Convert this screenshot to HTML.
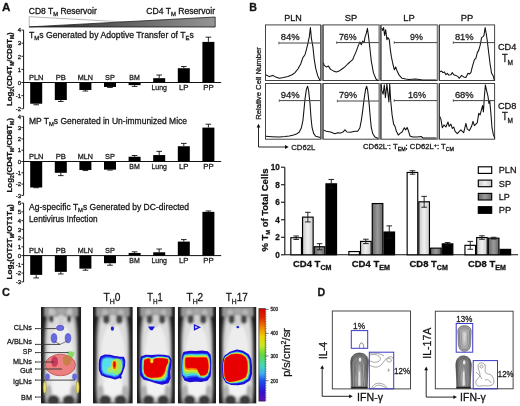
<!DOCTYPE html><html><head><meta charset="utf-8"><style>html,body{margin:0;padding:0;background:#fff;}svg{display:block;will-change:transform;filter:blur(0.25px);}text{font-family:"Liberation Sans",sans-serif;stroke:#1a1a1a;stroke-width:0.28px;}</style></head><body>
<svg width="520" height="406" viewBox="0 0 520 406">
<defs>
<linearGradient id="wedge" x1="0" x2="1" y1="0" y2="0"><stop offset="0" stop-color="#222"/><stop offset="0.45" stop-color="#5a5a5a"/><stop offset="1" stop-color="#959595"/></linearGradient>
<linearGradient id="gSP" x1="0" x2="1"><stop offset="0" stop-color="#c8c8c8"/><stop offset="0.5" stop-color="#f0f0f0"/><stop offset="1" stop-color="#c8c8c8"/></linearGradient>
<linearGradient id="gLP" x1="0" x2="1"><stop offset="0" stop-color="#666"/><stop offset="0.5" stop-color="#9a9a9a"/><stop offset="1" stop-color="#666"/></linearGradient>
<linearGradient id="cbar" x1="0" x2="0" y1="0" y2="1">
 <stop offset="0" stop-color="#d80000"/><stop offset="0.1" stop-color="#e02800"/><stop offset="0.18" stop-color="#f07000"/>
 <stop offset="0.3" stop-color="#f0d000"/><stop offset="0.4" stop-color="#c8e820"/><stop offset="0.5" stop-color="#60d840"/>
 <stop offset="0.62" stop-color="#40d8c0"/><stop offset="0.7" stop-color="#40b0f0"/><stop offset="0.78" stop-color="#2050f0"/>
 <stop offset="0.9" stop-color="#3010d0"/><stop offset="1" stop-color="#6010b0"/></linearGradient>
<linearGradient id="head" x1="0" x2="0" y1="0" y2="1"><stop offset="0" stop-color="#8a8a8a"/><stop offset="1" stop-color="#b0b0b0"/></linearGradient>
<radialGradient id="body" cx="0.5" cy="0.45" r="0.6"><stop offset="0" stop-color="#f2f2f2"/><stop offset="0.7" stop-color="#dcdcdc"/><stop offset="1" stop-color="#a0a0a0"/></radialGradient>
<filter id="blur1" x="-20%" y="-20%" width="140%" height="140%"><feGaussianBlur stdDeviation="0.8"/></filter>
<filter id="blur05" x="-20%" y="-20%" width="140%" height="140%"><feGaussianBlur stdDeviation="0.5"/></filter>
</defs>
<text x="2.00" y="11.10" font-size="11" font-weight="bold" text-anchor="start" fill="#111" textLength="8.40" lengthAdjust="spacingAndGlyphs" >A</text>
<polygon points="29.2,16.7 29.2,26.9 215.2,26.9" fill="#fff" stroke="#999" stroke-width="0.7"/>
<polygon points="29.2,26.9 215.2,17.0 215.2,26.9" fill="url(#wedge)" stroke="#222" stroke-width="0.8"/>
<text x="28.80" y="14.00" font-size="8.2" font-weight="normal" text-anchor="start" fill="#111" textLength="68.00" lengthAdjust="spacingAndGlyphs" >CD8 T<tspan font-size="5.6" dy="1.7">M</tspan><tspan dy="-1.7"> Reservoir</tspan></text>
<text x="146.30" y="14.00" font-size="8.2" font-weight="normal" text-anchor="start" fill="#111" textLength="68.70" lengthAdjust="spacingAndGlyphs" >CD4 T<tspan font-size="5.6" dy="1.7">M</tspan><tspan dy="-1.7"> Reservoir</tspan></text>
<line x1="23.60" y1="30.10" x2="23.60" y2="108.70" stroke="#111" stroke-width="1.0" />
<line x1="21.40" y1="30.10" x2="23.60" y2="30.10" stroke="#111" stroke-width="0.9" />
<text x="21.00" y="32.30" font-size="6" font-weight="normal" text-anchor="end" fill="#111" >4</text>
<line x1="21.40" y1="43.20" x2="23.60" y2="43.20" stroke="#111" stroke-width="0.9" />
<text x="21.00" y="45.40" font-size="6" font-weight="normal" text-anchor="end" fill="#111" >3</text>
<line x1="21.40" y1="56.30" x2="23.60" y2="56.30" stroke="#111" stroke-width="0.9" />
<text x="21.00" y="58.50" font-size="6" font-weight="normal" text-anchor="end" fill="#111" >2</text>
<line x1="21.40" y1="69.40" x2="23.60" y2="69.40" stroke="#111" stroke-width="0.9" />
<text x="21.00" y="71.60" font-size="6" font-weight="normal" text-anchor="end" fill="#111" >1</text>
<line x1="21.40" y1="82.50" x2="23.60" y2="82.50" stroke="#111" stroke-width="0.9" />
<text x="21.00" y="84.70" font-size="6" font-weight="normal" text-anchor="end" fill="#111" >0</text>
<line x1="21.40" y1="95.60" x2="23.60" y2="95.60" stroke="#111" stroke-width="0.9" />
<text x="21.00" y="97.80" font-size="6" font-weight="normal" text-anchor="end" fill="#111" >-1</text>
<line x1="21.40" y1="108.70" x2="23.60" y2="108.70" stroke="#111" stroke-width="0.9" />
<text x="21.00" y="110.90" font-size="6" font-weight="normal" text-anchor="end" fill="#111" >-2</text>
<line x1="23.60" y1="82.50" x2="221.20" y2="82.50" stroke="#111" stroke-width="1.0" />
<rect x="30.20" y="82.50" width="12.00" height="21.22" fill="#000" stroke="none" stroke-width="1" />
<line x1="36.20" y1="103.72" x2="36.20" y2="104.77" stroke="#111" stroke-width="0.9" />
<line x1="33.40" y1="104.77" x2="39.00" y2="104.77" stroke="#111" stroke-width="0.9" />
<text x="36.20" y="80.00" font-size="7.8" font-weight="normal" text-anchor="middle" fill="#111" textLength="14.50" lengthAdjust="spacingAndGlyphs" >PLN</text>
<rect x="54.80" y="82.50" width="12.00" height="17.55" fill="#000" stroke="none" stroke-width="1" />
<line x1="60.80" y1="100.05" x2="60.80" y2="101.50" stroke="#111" stroke-width="0.9" />
<line x1="58.00" y1="101.50" x2="63.60" y2="101.50" stroke="#111" stroke-width="0.9" />
<text x="60.80" y="80.00" font-size="7.8" font-weight="normal" text-anchor="middle" fill="#111" textLength="10.20" lengthAdjust="spacingAndGlyphs" >PB</text>
<rect x="79.40" y="82.50" width="12.00" height="7.47" fill="#000" stroke="none" stroke-width="1" />
<line x1="85.40" y1="89.97" x2="85.40" y2="91.02" stroke="#111" stroke-width="0.9" />
<line x1="82.60" y1="91.02" x2="88.20" y2="91.02" stroke="#111" stroke-width="0.9" />
<text x="85.40" y="80.00" font-size="7.8" font-weight="normal" text-anchor="middle" fill="#111" textLength="15.20" lengthAdjust="spacingAndGlyphs" >MLN</text>
<rect x="104.00" y="82.50" width="12.00" height="4.45" fill="#000" stroke="none" stroke-width="1" />
<line x1="110.00" y1="86.95" x2="110.00" y2="87.48" stroke="#111" stroke-width="0.9" />
<line x1="107.20" y1="87.48" x2="112.80" y2="87.48" stroke="#111" stroke-width="0.9" />
<text x="110.00" y="80.00" font-size="7.8" font-weight="normal" text-anchor="middle" fill="#111" textLength="9.80" lengthAdjust="spacingAndGlyphs" >SP</text>
<rect x="128.60" y="82.50" width="12.00" height="2.62" fill="#000" stroke="none" stroke-width="1" />
<line x1="134.60" y1="85.12" x2="134.60" y2="86.43" stroke="#111" stroke-width="0.9" />
<line x1="131.80" y1="86.43" x2="137.40" y2="86.43" stroke="#111" stroke-width="0.9" />
<text x="134.60" y="80.00" font-size="7.8" font-weight="normal" text-anchor="middle" fill="#111" textLength="10.50" lengthAdjust="spacingAndGlyphs" >BM</text>
<rect x="153.20" y="78.18" width="12.00" height="4.32" fill="#000" stroke="none" stroke-width="1" />
<line x1="159.20" y1="78.18" x2="159.20" y2="75.03" stroke="#111" stroke-width="0.9" />
<line x1="156.40" y1="75.03" x2="162.00" y2="75.03" stroke="#111" stroke-width="0.9" />
<text x="159.20" y="90.10" font-size="7.8" font-weight="normal" text-anchor="middle" fill="#111" textLength="15.50" lengthAdjust="spacingAndGlyphs" >Lung</text>
<rect x="177.80" y="68.22" width="12.00" height="14.28" fill="#000" stroke="none" stroke-width="1" />
<line x1="183.80" y1="68.22" x2="183.80" y2="66.52" stroke="#111" stroke-width="0.9" />
<line x1="181.00" y1="66.52" x2="186.60" y2="66.52" stroke="#111" stroke-width="0.9" />
<text x="183.80" y="90.10" font-size="7.8" font-weight="normal" text-anchor="middle" fill="#111" textLength="9.50" lengthAdjust="spacingAndGlyphs" >LP</text>
<rect x="202.40" y="41.89" width="12.00" height="40.61" fill="#000" stroke="none" stroke-width="1" />
<line x1="208.40" y1="41.89" x2="208.40" y2="37.17" stroke="#111" stroke-width="0.9" />
<line x1="205.60" y1="37.17" x2="211.20" y2="37.17" stroke="#111" stroke-width="0.9" />
<text x="208.40" y="90.10" font-size="7.8" font-weight="normal" text-anchor="middle" fill="#111" textLength="10.50" lengthAdjust="spacingAndGlyphs" >PP</text>
<text transform="translate(12.1,69.2) rotate(-90)" x="0" y="0" font-size="8.0" font-weight="bold" text-anchor="middle" fill="#111" textLength="73.7" lengthAdjust="spacingAndGlyphs">Log<tspan font-size="5" dy="1.5">2</tspan><tspan dy="-1.5">(CD4T</tspan><tspan font-size="5" dy="1.5">M</tspan><tspan dy="-1.5">/CD8T</tspan><tspan font-size="5" dy="1.5">M</tspan><tspan dy="-1.5">)</tspan></text>
<line x1="23.60" y1="116.30" x2="23.60" y2="195.40" stroke="#111" stroke-width="1.0" />
<line x1="21.40" y1="116.30" x2="23.60" y2="116.30" stroke="#111" stroke-width="0.9" />
<text x="21.00" y="118.50" font-size="6" font-weight="normal" text-anchor="end" fill="#111" >4</text>
<line x1="21.40" y1="127.60" x2="23.60" y2="127.60" stroke="#111" stroke-width="0.9" />
<text x="21.00" y="129.80" font-size="6" font-weight="normal" text-anchor="end" fill="#111" >3</text>
<line x1="21.40" y1="138.90" x2="23.60" y2="138.90" stroke="#111" stroke-width="0.9" />
<text x="21.00" y="141.10" font-size="6" font-weight="normal" text-anchor="end" fill="#111" >2</text>
<line x1="21.40" y1="150.20" x2="23.60" y2="150.20" stroke="#111" stroke-width="0.9" />
<text x="21.00" y="152.40" font-size="6" font-weight="normal" text-anchor="end" fill="#111" >1</text>
<line x1="21.40" y1="161.50" x2="23.60" y2="161.50" stroke="#111" stroke-width="0.9" />
<text x="21.00" y="163.70" font-size="6" font-weight="normal" text-anchor="end" fill="#111" >0</text>
<line x1="21.40" y1="172.80" x2="23.60" y2="172.80" stroke="#111" stroke-width="0.9" />
<text x="21.00" y="175.00" font-size="6" font-weight="normal" text-anchor="end" fill="#111" >-1</text>
<line x1="21.40" y1="184.10" x2="23.60" y2="184.10" stroke="#111" stroke-width="0.9" />
<text x="21.00" y="186.30" font-size="6" font-weight="normal" text-anchor="end" fill="#111" >-2</text>
<line x1="21.40" y1="195.40" x2="23.60" y2="195.40" stroke="#111" stroke-width="0.9" />
<text x="21.00" y="197.60" font-size="6" font-weight="normal" text-anchor="end" fill="#111" >-3</text>
<line x1="23.60" y1="161.50" x2="221.20" y2="161.50" stroke="#111" stroke-width="1.0" />
<rect x="30.20" y="161.50" width="12.00" height="25.99" fill="#000" stroke="none" stroke-width="1" />
<line x1="36.20" y1="187.49" x2="36.20" y2="187.72" stroke="#111" stroke-width="0.9" />
<line x1="33.40" y1="187.72" x2="39.00" y2="187.72" stroke="#111" stroke-width="0.9" />
<text x="36.20" y="159.00" font-size="7.8" font-weight="normal" text-anchor="middle" fill="#111" textLength="14.50" lengthAdjust="spacingAndGlyphs" >PLN</text>
<rect x="54.80" y="161.50" width="12.00" height="11.30" fill="#000" stroke="none" stroke-width="1" />
<line x1="60.80" y1="172.80" x2="60.80" y2="175.62" stroke="#111" stroke-width="0.9" />
<line x1="58.00" y1="175.62" x2="63.60" y2="175.62" stroke="#111" stroke-width="0.9" />
<text x="60.80" y="159.00" font-size="7.8" font-weight="normal" text-anchor="middle" fill="#111" textLength="10.20" lengthAdjust="spacingAndGlyphs" >PB</text>
<rect x="79.40" y="161.50" width="12.00" height="8.47" fill="#000" stroke="none" stroke-width="1" />
<line x1="85.40" y1="169.97" x2="85.40" y2="170.54" stroke="#111" stroke-width="0.9" />
<line x1="82.60" y1="170.54" x2="88.20" y2="170.54" stroke="#111" stroke-width="0.9" />
<text x="85.40" y="159.00" font-size="7.8" font-weight="normal" text-anchor="middle" fill="#111" textLength="15.20" lengthAdjust="spacingAndGlyphs" >MLN</text>
<rect x="104.00" y="161.50" width="12.00" height="8.14" fill="#000" stroke="none" stroke-width="1" />
<line x1="110.00" y1="169.64" x2="110.00" y2="170.09" stroke="#111" stroke-width="0.9" />
<line x1="107.20" y1="170.09" x2="112.80" y2="170.09" stroke="#111" stroke-width="0.9" />
<text x="110.00" y="159.00" font-size="7.8" font-weight="normal" text-anchor="middle" fill="#111" textLength="9.80" lengthAdjust="spacingAndGlyphs" >SP</text>
<rect x="128.60" y="156.75" width="12.00" height="4.75" fill="#000" stroke="none" stroke-width="1" />
<line x1="134.60" y1="156.75" x2="134.60" y2="155.51" stroke="#111" stroke-width="0.9" />
<line x1="131.80" y1="155.51" x2="137.40" y2="155.51" stroke="#111" stroke-width="0.9" />
<text x="134.60" y="169.10" font-size="7.8" font-weight="normal" text-anchor="middle" fill="#111" textLength="10.50" lengthAdjust="spacingAndGlyphs" >BM</text>
<rect x="153.20" y="155.06" width="12.00" height="6.44" fill="#000" stroke="none" stroke-width="1" />
<line x1="159.20" y1="155.06" x2="159.20" y2="151.33" stroke="#111" stroke-width="0.9" />
<line x1="156.40" y1="151.33" x2="162.00" y2="151.33" stroke="#111" stroke-width="0.9" />
<text x="159.20" y="169.10" font-size="7.8" font-weight="normal" text-anchor="middle" fill="#111" textLength="15.50" lengthAdjust="spacingAndGlyphs" >Lung</text>
<rect x="177.80" y="146.25" width="12.00" height="15.25" fill="#000" stroke="none" stroke-width="1" />
<line x1="183.80" y1="146.25" x2="183.80" y2="143.42" stroke="#111" stroke-width="0.9" />
<line x1="181.00" y1="143.42" x2="186.60" y2="143.42" stroke="#111" stroke-width="0.9" />
<text x="183.80" y="169.10" font-size="7.8" font-weight="normal" text-anchor="middle" fill="#111" textLength="9.50" lengthAdjust="spacingAndGlyphs" >LP</text>
<rect x="202.40" y="127.60" width="12.00" height="33.90" fill="#000" stroke="none" stroke-width="1" />
<line x1="208.40" y1="127.60" x2="208.40" y2="124.21" stroke="#111" stroke-width="0.9" />
<line x1="205.60" y1="124.21" x2="211.20" y2="124.21" stroke="#111" stroke-width="0.9" />
<text x="208.40" y="169.10" font-size="7.8" font-weight="normal" text-anchor="middle" fill="#111" textLength="10.50" lengthAdjust="spacingAndGlyphs" >PP</text>
<text transform="translate(12.1,155.3) rotate(-90)" x="0" y="0" font-size="8.0" font-weight="bold" text-anchor="middle" fill="#111" textLength="74.4" lengthAdjust="spacingAndGlyphs">Log<tspan font-size="5" dy="1.5">2</tspan><tspan dy="-1.5">(CD4T</tspan><tspan font-size="5" dy="1.5">M</tspan><tspan dy="-1.5">/CD8T</tspan><tspan font-size="5" dy="1.5">M</tspan><tspan dy="-1.5">)</tspan></text>
<line x1="23.60" y1="203.10" x2="23.60" y2="281.85" stroke="#111" stroke-width="1.0" />
<line x1="21.40" y1="203.10" x2="23.60" y2="203.10" stroke="#111" stroke-width="0.9" />
<text x="21.00" y="205.30" font-size="6" font-weight="normal" text-anchor="end" fill="#111" >6</text>
<line x1="21.40" y1="211.85" x2="23.60" y2="211.85" stroke="#111" stroke-width="0.9" />
<text x="21.00" y="214.05" font-size="6" font-weight="normal" text-anchor="end" fill="#111" >5</text>
<line x1="21.40" y1="220.60" x2="23.60" y2="220.60" stroke="#111" stroke-width="0.9" />
<text x="21.00" y="222.80" font-size="6" font-weight="normal" text-anchor="end" fill="#111" >4</text>
<line x1="21.40" y1="229.35" x2="23.60" y2="229.35" stroke="#111" stroke-width="0.9" />
<text x="21.00" y="231.55" font-size="6" font-weight="normal" text-anchor="end" fill="#111" >3</text>
<line x1="21.40" y1="238.10" x2="23.60" y2="238.10" stroke="#111" stroke-width="0.9" />
<text x="21.00" y="240.30" font-size="6" font-weight="normal" text-anchor="end" fill="#111" >2</text>
<line x1="21.40" y1="246.85" x2="23.60" y2="246.85" stroke="#111" stroke-width="0.9" />
<text x="21.00" y="249.05" font-size="6" font-weight="normal" text-anchor="end" fill="#111" >1</text>
<line x1="21.40" y1="255.60" x2="23.60" y2="255.60" stroke="#111" stroke-width="0.9" />
<text x="21.00" y="257.80" font-size="6" font-weight="normal" text-anchor="end" fill="#111" >0</text>
<line x1="21.40" y1="264.35" x2="23.60" y2="264.35" stroke="#111" stroke-width="0.9" />
<text x="21.00" y="266.55" font-size="6" font-weight="normal" text-anchor="end" fill="#111" >-1</text>
<line x1="21.40" y1="273.10" x2="23.60" y2="273.10" stroke="#111" stroke-width="0.9" />
<text x="21.00" y="275.30" font-size="6" font-weight="normal" text-anchor="end" fill="#111" >-2</text>
<line x1="21.40" y1="281.85" x2="23.60" y2="281.85" stroke="#111" stroke-width="0.9" />
<text x="21.00" y="284.05" font-size="6" font-weight="normal" text-anchor="end" fill="#111" >-3</text>
<line x1="23.60" y1="255.60" x2="221.20" y2="255.60" stroke="#111" stroke-width="1.0" />
<rect x="30.20" y="255.60" width="12.00" height="19.25" fill="#000" stroke="none" stroke-width="1" />
<line x1="36.20" y1="274.85" x2="36.20" y2="277.91" stroke="#111" stroke-width="0.9" />
<line x1="33.40" y1="277.91" x2="39.00" y2="277.91" stroke="#111" stroke-width="0.9" />
<text x="36.20" y="253.10" font-size="7.8" font-weight="normal" text-anchor="middle" fill="#111" textLength="14.50" lengthAdjust="spacingAndGlyphs" >PLN</text>
<rect x="54.80" y="255.60" width="12.00" height="16.28" fill="#000" stroke="none" stroke-width="1" />
<line x1="60.80" y1="271.88" x2="60.80" y2="273.98" stroke="#111" stroke-width="0.9" />
<line x1="58.00" y1="273.98" x2="63.60" y2="273.98" stroke="#111" stroke-width="0.9" />
<text x="60.80" y="253.10" font-size="7.8" font-weight="normal" text-anchor="middle" fill="#111" textLength="10.20" lengthAdjust="spacingAndGlyphs" >PB</text>
<rect x="79.40" y="255.60" width="12.00" height="13.04" fill="#000" stroke="none" stroke-width="1" />
<line x1="85.40" y1="268.64" x2="85.40" y2="270.21" stroke="#111" stroke-width="0.9" />
<line x1="82.60" y1="270.21" x2="88.20" y2="270.21" stroke="#111" stroke-width="0.9" />
<text x="85.40" y="253.10" font-size="7.8" font-weight="normal" text-anchor="middle" fill="#111" textLength="15.20" lengthAdjust="spacingAndGlyphs" >MLN</text>
<rect x="104.00" y="255.60" width="12.00" height="7.61" fill="#000" stroke="none" stroke-width="1" />
<line x1="110.00" y1="263.21" x2="110.00" y2="265.23" stroke="#111" stroke-width="0.9" />
<line x1="107.20" y1="265.23" x2="112.80" y2="265.23" stroke="#111" stroke-width="0.9" />
<text x="110.00" y="253.10" font-size="7.8" font-weight="normal" text-anchor="middle" fill="#111" textLength="9.80" lengthAdjust="spacingAndGlyphs" >SP</text>
<rect x="128.60" y="252.97" width="12.00" height="2.62" fill="#000" stroke="none" stroke-width="1" />
<line x1="134.60" y1="252.97" x2="134.60" y2="251.84" stroke="#111" stroke-width="0.9" />
<line x1="131.80" y1="251.84" x2="137.40" y2="251.84" stroke="#111" stroke-width="0.9" />
<text x="134.60" y="263.20" font-size="7.8" font-weight="normal" text-anchor="middle" fill="#111" textLength="10.50" lengthAdjust="spacingAndGlyphs" >BM</text>
<rect x="153.20" y="252.28" width="12.00" height="3.32" fill="#000" stroke="none" stroke-width="1" />
<line x1="159.20" y1="252.28" x2="159.20" y2="249.04" stroke="#111" stroke-width="0.9" />
<line x1="156.40" y1="249.04" x2="162.00" y2="249.04" stroke="#111" stroke-width="0.9" />
<text x="159.20" y="263.20" font-size="7.8" font-weight="normal" text-anchor="middle" fill="#111" textLength="15.50" lengthAdjust="spacingAndGlyphs" >Lung</text>
<rect x="177.80" y="241.60" width="12.00" height="14.00" fill="#000" stroke="none" stroke-width="1" />
<line x1="183.80" y1="241.60" x2="183.80" y2="239.59" stroke="#111" stroke-width="0.9" />
<line x1="181.00" y1="239.59" x2="186.60" y2="239.59" stroke="#111" stroke-width="0.9" />
<text x="183.80" y="263.20" font-size="7.8" font-weight="normal" text-anchor="middle" fill="#111" textLength="9.50" lengthAdjust="spacingAndGlyphs" >LP</text>
<rect x="202.40" y="211.85" width="12.00" height="43.75" fill="#000" stroke="none" stroke-width="1" />
<line x1="208.40" y1="211.85" x2="208.40" y2="210.97" stroke="#111" stroke-width="0.9" />
<line x1="205.60" y1="210.97" x2="211.20" y2="210.97" stroke="#111" stroke-width="0.9" />
<text x="208.40" y="263.20" font-size="7.8" font-weight="normal" text-anchor="middle" fill="#111" textLength="10.50" lengthAdjust="spacingAndGlyphs" >PP</text>
<text transform="translate(12.1,241.8) rotate(-90)" x="0" y="0" font-size="8.0" font-weight="bold" text-anchor="middle" fill="#111" textLength="75.2" lengthAdjust="spacingAndGlyphs">Log<tspan font-size="5" dy="1.5">2</tspan><tspan dy="-1.5">(OT2T</tspan><tspan font-size="5" dy="1.5">M</tspan><tspan dy="-1.5">/OT1T</tspan><tspan font-size="5" dy="1.5">M</tspan><tspan dy="-1.5">)</tspan></text>
<text x="29.00" y="38.00" font-size="9.0" font-weight="normal" text-anchor="start" fill="#111" textLength="164.80" lengthAdjust="spacingAndGlyphs" >T<tspan font-size="6.2" dy="1.9">M</tspan><tspan dy="-1.9">s Generated by Adoptive Transfer of T</tspan><tspan font-size="6.2" dy="1.9">E</tspan><tspan dy="-1.9">s</tspan></text>
<text x="29.00" y="124.40" font-size="9.0" font-weight="normal" text-anchor="start" fill="#111" textLength="158.00" lengthAdjust="spacingAndGlyphs" >MP T<tspan font-size="6.2" dy="1.9">M</tspan><tspan dy="-1.9">s Generated in Un-immunized Mice</tspan></text>
<text x="29.00" y="209.80" font-size="9.0" font-weight="normal" text-anchor="start" fill="#111" textLength="160.10" lengthAdjust="spacingAndGlyphs" >Ag-specific T<tspan font-size="6.2" dy="1.9">M</tspan><tspan dy="-1.9">s Generated by DC-directed</tspan></text>
<text x="29.00" y="221.60" font-size="9.0" font-weight="normal" text-anchor="start" fill="#111" textLength="68.60" lengthAdjust="spacingAndGlyphs" >Lentivirus Infection</text>
<text x="249.20" y="11.10" font-size="10" font-weight="bold" text-anchor="start" fill="#111" textLength="7.70" lengthAdjust="spacingAndGlyphs" >B</text>
<text x="293.05" y="21.00" font-size="9.2" font-weight="normal" text-anchor="middle" fill="#111" textLength="17.50" lengthAdjust="spacingAndGlyphs" >PLN</text>
<text x="351.10" y="21.00" font-size="9.2" font-weight="normal" text-anchor="middle" fill="#111" textLength="12.50" lengthAdjust="spacingAndGlyphs" >SP</text>
<text x="409.10" y="21.00" font-size="9.2" font-weight="normal" text-anchor="middle" fill="#111" textLength="11.50" lengthAdjust="spacingAndGlyphs" >LP</text>
<text x="467.00" y="21.00" font-size="9.2" font-weight="normal" text-anchor="middle" fill="#111" textLength="12.50" lengthAdjust="spacingAndGlyphs" >PP</text>
<rect x="265.50" y="24.90" width="55.10" height="55.60" fill="#fff" stroke="#444" stroke-width="1.0" />
<polyline points="265.7,74.7 269.3,76.6 272.9,75.4 275.7,77.1 279.3,78.3 283.6,77.6 287.9,76.6 292.1,74.7 295.0,72.6 297.9,69.0 300.7,64.0 302.9,57.6 305.0,54.7 306.4,49.7 307.9,43.3 309.3,36.9 310.4,27.6 311.4,38.3 312.9,46.9 314.3,59.7 315.7,68.3 317.6,75.4 320.0,80.4" fill="none" stroke="#111" stroke-width="1.05" stroke-linejoin="round" />
<line x1="278.90" y1="43.00" x2="320.60" y2="43.00" stroke="#444" stroke-width="1.0" />
<line x1="278.90" y1="41.70" x2="278.90" y2="44.30" stroke="#444" stroke-width="0.8" />
<text x="280.70" y="40.40" font-size="9.6" font-weight="normal" text-anchor="start" fill="#222" textLength="19.00" lengthAdjust="spacingAndGlyphs" >84%</text>
<rect x="323.00" y="24.90" width="56.20" height="55.60" fill="#fff" stroke="#444" stroke-width="1.0" />
<polyline points="323.4,62.6 324.1,65.4 326.3,66.9 328.4,66.1 330.6,69.4 333.4,70.9 336.3,71.9 339.1,71.1 342.0,69.0 344.9,66.9 347.7,64.0 350.6,61.4 352.7,59.7 354.1,56.1 356.3,51.1 358.4,45.4 359.9,41.9 361.3,44.7 362.7,41.1 364.1,42.6 364.9,37.6 366.3,33.3 367.4,28.3 368.4,35.4 369.9,48.3 371.3,61.1 373.4,72.6 376.0,79.0 378.4,80.9" fill="none" stroke="#111" stroke-width="1.05" stroke-linejoin="round" />
<line x1="336.70" y1="42.60" x2="379.20" y2="42.60" stroke="#444" stroke-width="1.0" />
<line x1="336.70" y1="41.30" x2="336.70" y2="43.90" stroke="#444" stroke-width="0.8" />
<text x="338.90" y="40.00" font-size="9.6" font-weight="normal" text-anchor="start" fill="#222" textLength="17.80" lengthAdjust="spacingAndGlyphs" >76%</text>
<rect x="380.90" y="24.90" width="56.40" height="55.60" fill="#fff" stroke="#444" stroke-width="1.0" />
<polyline points="381.7,28.3 382.6,30.4 383.6,27.6 384.6,35.4 385.7,29.7 386.9,39.7 387.9,37.6 389.3,39.7 390.3,49.7 391.4,56.9 392.9,64.0 394.3,69.7 395.7,66.9 397.1,71.1 399.3,75.4 402.1,78.3 405.7,79.0 408.6,79.4 415.7,79.0 422.9,80.0 436.4,80.0" fill="none" stroke="#111" stroke-width="1.05" stroke-linejoin="round" />
<line x1="394.30" y1="42.60" x2="437.30" y2="42.60" stroke="#444" stroke-width="1.0" />
<line x1="394.30" y1="41.30" x2="394.30" y2="43.90" stroke="#444" stroke-width="0.8" />
<text x="410.00" y="40.00" font-size="9.6" font-weight="normal" text-anchor="start" fill="#222" textLength="12.90" lengthAdjust="spacingAndGlyphs" >9%</text>
<rect x="439.40" y="24.90" width="55.20" height="55.60" fill="#fff" stroke="#444" stroke-width="1.0" />
<polyline points="439.4,71.9 441.6,71.1 443.0,72.6 444.4,71.9 445.9,74.7 447.3,73.3 448.7,75.1 450.9,74.7 452.3,72.6 453.7,74.7 455.9,75.4 458.0,76.6 459.4,78.3 461.6,75.4 463.7,76.9 465.9,77.6 468.0,73.3 469.4,74.0 470.9,72.6 472.3,66.9 474.4,59.7 475.9,58.3 477.3,52.6 478.7,50.4 480.1,45.4 481.6,37.6 483.0,36.6 484.0,35.4 485.1,27.6 486.3,34.0 487.3,41.1 488.7,52.6 490.1,64.0 491.6,73.3 493.0,75.4 494.4,80.4" fill="none" stroke="#111" stroke-width="1.05" stroke-linejoin="round" />
<line x1="453.30" y1="42.60" x2="494.60" y2="42.60" stroke="#444" stroke-width="1.0" />
<line x1="453.30" y1="41.30" x2="453.30" y2="43.90" stroke="#444" stroke-width="0.8" />
<text x="454.90" y="40.00" font-size="9.6" font-weight="normal" text-anchor="start" fill="#222" textLength="18.80" lengthAdjust="spacingAndGlyphs" >81%</text>
<rect x="265.50" y="83.50" width="55.10" height="55.70" fill="#fff" stroke="#444" stroke-width="1.0" />
<polyline points="265.7,136.3 272.1,136.7 279.3,137.0 285.0,136.6 289.3,136.0 293.6,135.1 296.4,134.1 299.3,132.0 301.4,127.7 302.9,120.6 303.9,110.6 305.0,99.1 306.4,89.1 307.6,86.3 308.6,90.6 310.0,103.4 311.0,117.7 312.1,127.7 313.6,133.4 315.7,136.3 320.4,137.4" fill="none" stroke="#111" stroke-width="1.05" stroke-linejoin="round" />
<line x1="279.30" y1="100.60" x2="320.60" y2="100.60" stroke="#444" stroke-width="1.0" />
<line x1="279.30" y1="99.30" x2="279.30" y2="101.90" stroke="#444" stroke-width="0.8" />
<text x="280.70" y="98.00" font-size="9.6" font-weight="normal" text-anchor="start" fill="#222" textLength="19.00" lengthAdjust="spacingAndGlyphs" >94%</text>
<rect x="323.00" y="83.50" width="56.20" height="55.70" fill="#fff" stroke="#444" stroke-width="1.0" />
<polyline points="323.4,129.9 326.3,131.3 330.6,132.0 334.9,133.7 337.7,132.7 340.6,133.1 343.4,131.7 344.9,129.9 347.0,132.0 350.6,132.3 354.9,131.3 357.7,131.3 359.9,127.7 361.3,120.6 362.7,110.6 364.1,99.1 365.6,89.1 366.7,86.3 367.7,90.6 369.1,103.4 370.3,117.7 371.3,127.7 372.7,133.4 374.9,137.0 378.4,138.4" fill="none" stroke="#111" stroke-width="1.05" stroke-linejoin="round" />
<line x1="337.40" y1="101.00" x2="379.20" y2="101.00" stroke="#444" stroke-width="1.0" />
<line x1="337.40" y1="99.70" x2="337.40" y2="102.30" stroke="#444" stroke-width="0.8" />
<text x="338.90" y="98.40" font-size="9.6" font-weight="normal" text-anchor="start" fill="#222" textLength="18.10" lengthAdjust="spacingAndGlyphs" >79%</text>
<rect x="380.90" y="83.50" width="56.40" height="55.70" fill="#fff" stroke="#444" stroke-width="1.0" />
<polyline points="381.4,84.9 381.7,90.6 383.1,94.1 384.3,84.9 385.4,97.7 386.9,84.1 387.9,93.4 388.9,102.0 389.7,84.1 390.7,100.6 392.1,114.9 393.6,124.1 395.0,126.3 396.4,131.3 398.3,135.1 400.0,133.4 402.1,132.0 404.3,127.7 405.7,129.9 407.1,127.4 408.6,131.3 410.0,136.0 412.9,137.0 417.1,137.0 421.4,136.6 422.9,138.0 436.4,138.0" fill="none" stroke="#111" stroke-width="1.05" stroke-linejoin="round" />
<line x1="394.30" y1="100.60" x2="437.30" y2="100.60" stroke="#444" stroke-width="1.0" />
<line x1="394.30" y1="99.30" x2="394.30" y2="101.90" stroke="#444" stroke-width="0.8" />
<text x="407.90" y="98.00" font-size="9.6" font-weight="normal" text-anchor="start" fill="#222" textLength="18.10" lengthAdjust="spacingAndGlyphs" >16%</text>
<rect x="439.40" y="83.50" width="55.20" height="55.70" fill="#fff" stroke="#444" stroke-width="1.0" />
<polyline points="439.4,115.6 440.9,119.1 442.3,127.7 444.0,124.9 445.9,127.0 448.0,122.0 449.1,126.3 450.9,124.1 452.3,128.4 453.7,127.0 455.1,131.3 457.3,133.7 459.4,131.3 460.9,129.9 462.3,131.3 463.7,132.7 465.9,123.4 467.3,129.1 469.4,130.6 471.6,126.3 473.0,121.3 474.4,125.6 475.9,124.1 477.3,122.7 478.7,113.4 480.1,114.9 481.6,109.1 482.6,105.6 483.4,112.0 484.4,96.3 485.4,84.9 486.6,90.6 488.0,96.3 488.9,103.4 489.7,100.6 490.9,113.4 492.0,127.7 493.4,134.9 494.9,138.4" fill="none" stroke="#111" stroke-width="1.05" stroke-linejoin="round" />
<line x1="453.30" y1="100.60" x2="494.60" y2="100.60" stroke="#444" stroke-width="1.0" />
<line x1="453.30" y1="99.30" x2="453.30" y2="101.90" stroke="#444" stroke-width="0.8" />
<text x="454.90" y="98.00" font-size="9.6" font-weight="normal" text-anchor="start" fill="#222" textLength="18.80" lengthAdjust="spacingAndGlyphs" >68%</text>
<line x1="321.50" y1="24.90" x2="321.50" y2="80.50" stroke="#8a8a8a" stroke-width="1.3" />
<line x1="323.00" y1="24.90" x2="323.00" y2="80.50" stroke="#333" stroke-width="0.9" />
<line x1="321.50" y1="83.50" x2="321.50" y2="139.20" stroke="#8a8a8a" stroke-width="1.3" />
<line x1="323.00" y1="83.50" x2="323.00" y2="139.20" stroke="#333" stroke-width="0.9" />
<line x1="379.40" y1="24.90" x2="379.40" y2="80.50" stroke="#8a8a8a" stroke-width="1.3" />
<line x1="380.90" y1="24.90" x2="380.90" y2="80.50" stroke="#333" stroke-width="0.9" />
<line x1="379.40" y1="83.50" x2="379.40" y2="139.20" stroke="#8a8a8a" stroke-width="1.3" />
<line x1="380.90" y1="83.50" x2="380.90" y2="139.20" stroke="#333" stroke-width="0.9" />
<line x1="437.90" y1="24.90" x2="437.90" y2="80.50" stroke="#8a8a8a" stroke-width="1.3" />
<line x1="439.40" y1="24.90" x2="439.40" y2="80.50" stroke="#333" stroke-width="0.9" />
<line x1="437.90" y1="83.50" x2="437.90" y2="139.20" stroke="#8a8a8a" stroke-width="1.3" />
<line x1="439.40" y1="83.50" x2="439.40" y2="139.20" stroke="#333" stroke-width="0.9" />
<text x="497.90" y="50.40" font-size="9.4" font-weight="normal" text-anchor="start" fill="#111" textLength="18.40" lengthAdjust="spacingAndGlyphs" >CD4</text>
<text x="501.90" y="62.30" font-size="10.0" font-weight="normal" text-anchor="start" fill="#111" textLength="11.20" lengthAdjust="spacingAndGlyphs" >T<tspan font-size="7.0" dy="2.4">M</tspan><tspan dy="-2.4"></tspan></text>
<text x="497.90" y="108.50" font-size="9.4" font-weight="normal" text-anchor="start" fill="#111" textLength="18.60" lengthAdjust="spacingAndGlyphs" >CD8</text>
<text x="501.90" y="120.40" font-size="10.0" font-weight="normal" text-anchor="start" fill="#111" textLength="11.20" lengthAdjust="spacingAndGlyphs" >T<tspan font-size="7.0" dy="2.4">M</tspan><tspan dy="-2.4"></tspan></text>
<path d="M258.5,147 L258.5,127 M258.5,147 L285.5,147" stroke="#111" stroke-width="0.9" fill="none"/>
<path d="M256.6,127.5 L258.5,123.8 L260.4,127.5 Z" fill="#111"/>
<path d="M285,145.1 L288.7,147 L285,148.9 Z" fill="#111"/>
<text transform="translate(260.6,83.5) rotate(-90)" font-size="7" text-anchor="middle" fill="#222" textLength="72.5" lengthAdjust="spacingAndGlyphs">Relative Cell Number</text>
<text x="291.30" y="149.90" font-size="7.7" font-weight="normal" text-anchor="start" fill="#222" textLength="24.00" lengthAdjust="spacingAndGlyphs" >CD62L</text>
<text x="363.00" y="149.30" font-size="6.6" font-weight="normal" text-anchor="start" fill="#222" textLength="91.00" lengthAdjust="spacingAndGlyphs" >CD62L<tspan font-size="4.5" dy="-2.5">-</tspan><tspan dy="2.5">: T</tspan><tspan font-size="4.5" dy="1.5">EM</tspan><tspan dy="-1.5">; CD62L</tspan><tspan font-size="4.5" dy="-2.5">+</tspan><tspan dy="2.5">: T</tspan><tspan font-size="4.5" dy="1.5">CM</tspan><tspan dy="-1.5"></tspan></text>
<line x1="284.80" y1="167.20" x2="284.80" y2="254.80" stroke="#111" stroke-width="1.1" />
<line x1="284.80" y1="254.80" x2="518.00" y2="254.80" stroke="#111" stroke-width="1.1" />
<line x1="281.00" y1="254.80" x2="284.80" y2="254.80" stroke="#111" stroke-width="1.1" />
<text x="279.90" y="257.70" font-size="8.2" font-weight="bold" text-anchor="end" fill="#111" >0</text>
<line x1="281.00" y1="237.28" x2="284.80" y2="237.28" stroke="#111" stroke-width="1.1" />
<text x="279.90" y="240.18" font-size="8.2" font-weight="bold" text-anchor="end" fill="#111" >2</text>
<line x1="281.00" y1="219.76" x2="284.80" y2="219.76" stroke="#111" stroke-width="1.1" />
<text x="279.90" y="222.66" font-size="8.2" font-weight="bold" text-anchor="end" fill="#111" >4</text>
<line x1="281.00" y1="202.24" x2="284.80" y2="202.24" stroke="#111" stroke-width="1.1" />
<text x="279.90" y="205.14" font-size="8.2" font-weight="bold" text-anchor="end" fill="#111" >6</text>
<line x1="281.00" y1="184.72" x2="284.80" y2="184.72" stroke="#111" stroke-width="1.1" />
<text x="279.90" y="187.62" font-size="8.2" font-weight="bold" text-anchor="end" fill="#111" >8</text>
<line x1="281.00" y1="167.20" x2="284.80" y2="167.20" stroke="#111" stroke-width="1.1" />
<text x="279.90" y="170.10" font-size="8.2" font-weight="bold" text-anchor="end" fill="#111" >10</text>
<text transform="translate(268.1,210.1) rotate(-90)" font-size="9.0" font-weight="bold" text-anchor="middle" fill="#111" textLength="83" lengthAdjust="spacingAndGlyphs">% T<tspan font-size="5.5" dy="1.8">M</tspan><tspan dy="-1.8"> of Total Cells</tspan></text>
<rect x="290.85" y="237.72" width="10.60" height="17.08" fill="#fff" stroke="#000" stroke-width="1.15" />
<line x1="296.15" y1="235.97" x2="296.15" y2="239.47" stroke="#111" stroke-width="0.9" />
<line x1="293.35" y1="235.97" x2="298.95" y2="235.97" stroke="#111" stroke-width="0.9" />
<line x1="293.35" y1="239.47" x2="298.95" y2="239.47" stroke="#111" stroke-width="0.9" />
<rect x="302.55" y="217.13" width="10.60" height="37.67" fill="url(#gSP)" stroke="#000" stroke-width="1.15" />
<line x1="307.85" y1="212.31" x2="307.85" y2="221.95" stroke="#111" stroke-width="0.9" />
<line x1="305.05" y1="212.31" x2="310.65" y2="212.31" stroke="#111" stroke-width="0.9" />
<line x1="305.05" y1="221.95" x2="310.65" y2="221.95" stroke="#111" stroke-width="0.9" />
<rect x="314.25" y="246.74" width="10.60" height="8.06" fill="url(#gLP)" stroke="#000" stroke-width="1.15" />
<line x1="319.55" y1="243.67" x2="319.55" y2="249.81" stroke="#111" stroke-width="0.9" />
<line x1="316.75" y1="243.67" x2="322.35" y2="243.67" stroke="#111" stroke-width="0.9" />
<line x1="316.75" y1="249.81" x2="322.35" y2="249.81" stroke="#111" stroke-width="0.9" />
<rect x="325.95" y="183.84" width="10.60" height="70.96" fill="#000" stroke="#000" stroke-width="1.15" />
<line x1="331.25" y1="179.46" x2="331.25" y2="188.22" stroke="#111" stroke-width="0.9" />
<line x1="328.45" y1="179.46" x2="334.05" y2="179.46" stroke="#111" stroke-width="0.9" />
<line x1="328.45" y1="188.22" x2="334.05" y2="188.22" stroke="#111" stroke-width="0.9" />
<rect x="348.85" y="251.56" width="10.60" height="3.24" fill="#fff" stroke="#000" stroke-width="1.15" />
<rect x="360.55" y="241.40" width="10.60" height="13.40" fill="url(#gSP)" stroke="#000" stroke-width="1.15" />
<line x1="365.85" y1="239.21" x2="365.85" y2="243.59" stroke="#111" stroke-width="0.9" />
<line x1="363.05" y1="239.21" x2="368.65" y2="239.21" stroke="#111" stroke-width="0.9" />
<line x1="363.05" y1="243.59" x2="368.65" y2="243.59" stroke="#111" stroke-width="0.9" />
<rect x="372.25" y="203.55" width="10.60" height="51.25" fill="url(#gLP)" stroke="#000" stroke-width="1.15" />
<rect x="383.95" y="232.02" width="10.60" height="22.78" fill="#000" stroke="#000" stroke-width="1.15" />
<line x1="389.25" y1="225.89" x2="389.25" y2="238.16" stroke="#111" stroke-width="0.9" />
<line x1="386.45" y1="225.89" x2="392.05" y2="225.89" stroke="#111" stroke-width="0.9" />
<line x1="386.45" y1="238.16" x2="392.05" y2="238.16" stroke="#111" stroke-width="0.9" />
<rect x="407.15" y="172.46" width="10.60" height="82.34" fill="#fff" stroke="#000" stroke-width="1.15" />
<line x1="412.45" y1="170.70" x2="412.45" y2="174.21" stroke="#111" stroke-width="0.9" />
<line x1="409.65" y1="170.70" x2="415.25" y2="170.70" stroke="#111" stroke-width="0.9" />
<line x1="409.65" y1="174.21" x2="415.25" y2="174.21" stroke="#111" stroke-width="0.9" />
<rect x="418.85" y="201.80" width="10.60" height="53.00" fill="url(#gSP)" stroke="#000" stroke-width="1.15" />
<line x1="424.15" y1="196.37" x2="424.15" y2="207.23" stroke="#111" stroke-width="0.9" />
<line x1="421.35" y1="196.37" x2="426.95" y2="196.37" stroke="#111" stroke-width="0.9" />
<line x1="421.35" y1="207.23" x2="426.95" y2="207.23" stroke="#111" stroke-width="0.9" />
<rect x="430.55" y="248.14" width="10.60" height="6.66" fill="url(#gLP)" stroke="#000" stroke-width="1.15" />
<rect x="442.25" y="243.85" width="10.60" height="10.95" fill="#000" stroke="#000" stroke-width="1.15" />
<line x1="447.55" y1="242.54" x2="447.55" y2="245.16" stroke="#111" stroke-width="0.9" />
<line x1="444.75" y1="242.54" x2="450.35" y2="242.54" stroke="#111" stroke-width="0.9" />
<line x1="444.75" y1="245.16" x2="450.35" y2="245.16" stroke="#111" stroke-width="0.9" />
<rect x="464.95" y="245.34" width="10.60" height="9.46" fill="#fff" stroke="#000" stroke-width="1.15" />
<line x1="470.25" y1="241.40" x2="470.25" y2="249.28" stroke="#111" stroke-width="0.9" />
<line x1="467.45" y1="241.40" x2="473.05" y2="241.40" stroke="#111" stroke-width="0.9" />
<line x1="467.45" y1="249.28" x2="473.05" y2="249.28" stroke="#111" stroke-width="0.9" />
<rect x="476.65" y="237.54" width="10.60" height="17.26" fill="url(#gSP)" stroke="#000" stroke-width="1.15" />
<line x1="481.95" y1="235.79" x2="481.95" y2="239.29" stroke="#111" stroke-width="0.9" />
<line x1="479.15" y1="235.79" x2="484.75" y2="235.79" stroke="#111" stroke-width="0.9" />
<line x1="479.15" y1="239.29" x2="484.75" y2="239.29" stroke="#111" stroke-width="0.9" />
<rect x="488.35" y="238.16" width="10.60" height="16.64" fill="url(#gLP)" stroke="#000" stroke-width="1.15" />
<line x1="493.65" y1="237.28" x2="493.65" y2="239.03" stroke="#111" stroke-width="0.9" />
<line x1="490.85" y1="237.28" x2="496.45" y2="237.28" stroke="#111" stroke-width="0.9" />
<line x1="490.85" y1="239.03" x2="496.45" y2="239.03" stroke="#111" stroke-width="0.9" />
<rect x="500.05" y="249.37" width="10.60" height="5.43" fill="#000" stroke="#000" stroke-width="1.15" />
<text x="293.00" y="267.20" font-size="8.8" font-weight="bold" text-anchor="start" fill="#111" textLength="38.50" lengthAdjust="spacingAndGlyphs" >CD4 T<tspan font-size="6.6" dy="2.4">CM</tspan><tspan dy="-2.4"></tspan></text>
<text x="351.70" y="267.20" font-size="8.8" font-weight="bold" text-anchor="start" fill="#111" textLength="38.30" lengthAdjust="spacingAndGlyphs" >CD4 T<tspan font-size="6.6" dy="2.4">EM</tspan><tspan dy="-2.4"></tspan></text>
<text x="409.50" y="267.20" font-size="8.8" font-weight="bold" text-anchor="start" fill="#111" textLength="38.30" lengthAdjust="spacingAndGlyphs" >CD8 T<tspan font-size="6.6" dy="2.4">CM</tspan><tspan dy="-2.4"></tspan></text>
<text x="468.00" y="267.20" font-size="8.8" font-weight="bold" text-anchor="start" fill="#111" textLength="37.80" lengthAdjust="spacingAndGlyphs" >CD8 T<tspan font-size="6.6" dy="2.4">EM</tspan><tspan dy="-2.4"></tspan></text>
<rect x="478.30" y="166.80" width="13.40" height="6.60" fill="#fff" stroke="#000" stroke-width="1.15" />
<text x="498.80" y="173.40" font-size="9.2" font-weight="normal" text-anchor="start" fill="#111" textLength="17.70" lengthAdjust="spacingAndGlyphs" >PLN</text>
<rect x="478.30" y="180.10" width="13.40" height="6.60" fill="url(#gSP)" stroke="#000" stroke-width="1.15" />
<text x="498.80" y="186.70" font-size="9.2" font-weight="normal" text-anchor="start" fill="#111" textLength="12.30" lengthAdjust="spacingAndGlyphs" >SP</text>
<rect x="478.30" y="193.40" width="13.40" height="6.60" fill="url(#gLP)" stroke="#000" stroke-width="1.15" />
<text x="498.80" y="200.00" font-size="9.2" font-weight="normal" text-anchor="start" fill="#111" textLength="11.00" lengthAdjust="spacingAndGlyphs" >LP</text>
<rect x="478.30" y="206.70" width="13.40" height="6.60" fill="#000" stroke="#000" stroke-width="1.15" />
<text x="498.80" y="213.30" font-size="9.2" font-weight="normal" text-anchor="start" fill="#111" textLength="12.50" lengthAdjust="spacingAndGlyphs" >PP</text>
<text x="2.10" y="296.20" font-size="11" font-weight="bold" text-anchor="start" fill="#111" textLength="7.90" lengthAdjust="spacingAndGlyphs" >C</text>
<rect x="41.00" y="307.00" width="40.20" height="96.60" fill="#1c1c1c" stroke="none" stroke-width="1" />
<g filter="url(#blur1)"><rect x="44.0" y="307.0" width="34.2" height="9.5" fill="#969696"/><ellipse cx="53.1" cy="312.5" rx="3.2" ry="3.6" fill="#b8b8b8"/><ellipse cx="69.1" cy="312.5" rx="3.2" ry="3.6" fill="#b8b8b8"/><ellipse cx="61.1" cy="311.0" rx="4.0" ry="3" fill="#a8a8a8"/><path d="M46.6,316.0 C45.0,323.0 44.2,331.0 44.2,347.0 L43.8,387.0 C44.2,397.0 45.0,403.6 45.8,403.6 L76.4,403.6 C77.2,403.6 78.0,397.0 78.4,387.0 L78.0,347.0 C78.0,331.0 77.2,323.0 75.6,316.0 Z" fill="#9a9a9a"/><path d="M49.8,317.0 C47.8,323.0 46.6,333.0 46.2,347.0 L45.8,385.0 C46.2,395.0 47.4,401.6 49.0,401.6 L73.2,401.6 C74.8,401.6 76.0,395.0 76.4,385.0 L76.0,347.0 C75.6,333.0 74.4,323.0 72.4,317.0 Z" fill="#dcdcdc"/><ellipse cx="61.1" cy="359.0" rx="12.1" ry="36" fill="#ededed"/><ellipse cx="61.1" cy="387.0" rx="10.5" ry="10" fill="#f2f2f2"/><ellipse cx="51.0" cy="312.0" rx="2.4" ry="4" fill="#c4c4c4"/><ellipse cx="69.9" cy="312.0" rx="2.4" ry="4" fill="#c4c4c4"/><ellipse cx="51.5" cy="319.0" rx="2.0" ry="3.6" fill="#1e1e1e"/><ellipse cx="69.1" cy="319.0" rx="2.0" ry="3.6" fill="#1e1e1e"/><rect x="58.3" y="315.0" width="5.6" height="12" fill="#d0d0d0"/><ellipse cx="49.0" cy="391.0" rx="2.8" ry="6" fill="#b0b0b0"/><ellipse cx="73.2" cy="391.0" rx="2.8" ry="6" fill="#b0b0b0"/><ellipse cx="53.5" cy="400.1" rx="6.0" ry="5" fill="#3a3a3a"/><ellipse cx="68.7" cy="400.1" rx="6.0" ry="5" fill="#3a3a3a"/></g>
<rect x="40.0" y="403.6" width="42.2" height="3" fill="#fff"/>
<rect x="92.90" y="307.00" width="39.90" height="96.60" fill="#1c1c1c" stroke="none" stroke-width="1" />
<g filter="url(#blur1)"><rect x="95.9" y="307.0" width="33.9" height="9.5" fill="#969696"/><ellipse cx="104.9" cy="312.5" rx="3.2" ry="3.6" fill="#b8b8b8"/><ellipse cx="120.8" cy="312.5" rx="3.2" ry="3.6" fill="#b8b8b8"/><ellipse cx="112.9" cy="311.0" rx="4.0" ry="3" fill="#a8a8a8"/><path d="M98.5,316.0 C96.9,323.0 96.1,331.0 96.1,347.0 L95.7,387.0 C96.1,397.0 96.9,403.6 97.7,403.6 L128.0,403.6 C128.8,403.6 129.6,397.0 130.0,387.0 L129.6,347.0 C129.6,331.0 128.8,323.0 127.2,316.0 Z" fill="#9a9a9a"/><path d="M101.7,317.0 C99.7,323.0 98.5,333.0 98.1,347.0 L97.7,385.0 C98.1,395.0 99.3,401.6 100.9,401.6 L124.8,401.6 C126.4,401.6 127.6,395.0 128.0,385.0 L127.6,347.0 C127.2,333.0 126.0,323.0 124.0,317.0 Z" fill="#dcdcdc"/><ellipse cx="112.9" cy="359.0" rx="12.0" ry="36" fill="#ededed"/><ellipse cx="112.9" cy="387.0" rx="10.4" ry="10" fill="#f2f2f2"/><ellipse cx="106.3" cy="319.5" rx="3.4" ry="4.4" fill="#454545"/><ellipse cx="119.4" cy="319.5" rx="3.4" ry="4.4" fill="#454545"/><rect x="110.1" y="315.0" width="5.6" height="12" fill="#d0d0d0"/><ellipse cx="100.9" cy="391.0" rx="2.8" ry="6" fill="#b0b0b0"/><ellipse cx="124.8" cy="391.0" rx="2.8" ry="6" fill="#b0b0b0"/><ellipse cx="105.3" cy="400.1" rx="6.0" ry="5" fill="#3a3a3a"/><ellipse cx="120.4" cy="400.1" rx="6.0" ry="5" fill="#3a3a3a"/></g>
<rect x="91.9" y="403.6" width="41.9" height="3" fill="#fff"/>
<rect x="136.90" y="307.00" width="38.00" height="96.60" fill="#1c1c1c" stroke="none" stroke-width="1" />
<g filter="url(#blur1)"><rect x="139.9" y="307.0" width="32.0" height="9.5" fill="#969696"/><ellipse cx="148.3" cy="312.5" rx="3.0" ry="3.6" fill="#b8b8b8"/><ellipse cx="163.5" cy="312.5" rx="3.0" ry="3.6" fill="#b8b8b8"/><ellipse cx="155.9" cy="311.0" rx="3.8" ry="3" fill="#a8a8a8"/><path d="M142.2,316.0 C140.7,323.0 139.9,331.0 139.9,347.0 L139.6,387.0 C139.9,397.0 140.7,403.6 141.5,403.6 L170.3,403.6 C171.1,403.6 171.9,397.0 172.2,387.0 L171.9,347.0 C171.9,331.0 171.1,323.0 169.6,316.0 Z" fill="#9a9a9a"/><path d="M145.3,317.0 C143.4,323.0 142.2,333.0 141.8,347.0 L141.5,385.0 C141.8,395.0 143.0,401.6 144.5,401.6 L167.3,401.6 C168.8,401.6 170.0,395.0 170.3,385.0 L170.0,347.0 C169.6,333.0 168.4,323.0 166.5,317.0 Z" fill="#dcdcdc"/><ellipse cx="155.9" cy="359.0" rx="11.4" ry="36" fill="#ededed"/><ellipse cx="155.9" cy="387.0" rx="9.9" ry="10" fill="#f2f2f2"/><ellipse cx="149.6" cy="319.5" rx="3.2" ry="4.4" fill="#454545"/><ellipse cx="162.2" cy="319.5" rx="3.2" ry="4.4" fill="#454545"/><rect x="153.2" y="315.0" width="5.3" height="12" fill="#d0d0d0"/><ellipse cx="144.5" cy="391.0" rx="2.7" ry="6" fill="#b0b0b0"/><ellipse cx="167.3" cy="391.0" rx="2.7" ry="6" fill="#b0b0b0"/><ellipse cx="148.7" cy="400.1" rx="5.7" ry="5" fill="#3a3a3a"/><ellipse cx="163.1" cy="400.1" rx="5.7" ry="5" fill="#3a3a3a"/></g>
<rect x="135.9" y="403.6" width="40.0" height="3" fill="#fff"/>
<rect x="177.80" y="307.00" width="38.30" height="96.60" fill="#1c1c1c" stroke="none" stroke-width="1" />
<g filter="url(#blur1)"><rect x="180.8" y="307.0" width="32.3" height="9.5" fill="#969696"/><ellipse cx="189.3" cy="312.5" rx="3.1" ry="3.6" fill="#b8b8b8"/><ellipse cx="204.6" cy="312.5" rx="3.1" ry="3.6" fill="#b8b8b8"/><ellipse cx="196.9" cy="311.0" rx="3.8" ry="3" fill="#a8a8a8"/><path d="M183.2,316.0 C181.6,323.0 180.9,331.0 180.9,347.0 L180.5,387.0 C180.9,397.0 181.6,403.6 182.4,403.6 L211.5,403.6 C212.3,403.6 213.0,397.0 213.4,387.0 L213.0,347.0 C213.0,331.0 212.3,323.0 210.7,316.0 Z" fill="#9a9a9a"/><path d="M186.2,317.0 C184.3,323.0 183.2,333.0 182.8,347.0 L182.4,385.0 C182.8,395.0 183.9,401.6 185.5,401.6 L208.4,401.6 C210.0,401.6 211.1,395.0 211.5,385.0 L211.1,347.0 C210.7,333.0 209.6,323.0 207.7,317.0 Z" fill="#dcdcdc"/><ellipse cx="196.9" cy="359.0" rx="11.5" ry="36" fill="#ededed"/><ellipse cx="196.9" cy="387.0" rx="10.0" ry="10" fill="#f2f2f2"/><ellipse cx="190.6" cy="319.5" rx="3.3" ry="4.4" fill="#454545"/><ellipse cx="203.3" cy="319.5" rx="3.3" ry="4.4" fill="#454545"/><rect x="194.3" y="315.0" width="5.4" height="12" fill="#d0d0d0"/><ellipse cx="185.5" cy="391.0" rx="2.7" ry="6" fill="#b0b0b0"/><ellipse cx="208.4" cy="391.0" rx="2.7" ry="6" fill="#b0b0b0"/><ellipse cx="189.7" cy="400.1" rx="5.7" ry="5" fill="#3a3a3a"/><ellipse cx="204.2" cy="400.1" rx="5.7" ry="5" fill="#3a3a3a"/></g>
<rect x="176.8" y="403.6" width="40.3" height="3" fill="#fff"/>
<rect x="219.00" y="307.00" width="37.50" height="96.60" fill="#1c1c1c" stroke="none" stroke-width="1" />
<g filter="url(#blur1)"><rect x="222.0" y="307.0" width="31.5" height="9.5" fill="#969696"/><ellipse cx="230.2" cy="312.5" rx="3.0" ry="3.6" fill="#b8b8b8"/><ellipse cx="245.2" cy="312.5" rx="3.0" ry="3.6" fill="#b8b8b8"/><ellipse cx="237.8" cy="311.0" rx="3.8" ry="3" fill="#a8a8a8"/><path d="M224.2,316.0 C222.8,323.0 222.0,331.0 222.0,347.0 L221.6,387.0 C222.0,397.0 222.8,403.6 223.5,403.6 L252.0,403.6 C252.8,403.6 253.5,397.0 253.9,387.0 L253.5,347.0 C253.5,331.0 252.8,323.0 251.2,316.0 Z" fill="#9a9a9a"/><path d="M227.2,317.0 C225.4,323.0 224.2,333.0 223.9,347.0 L223.5,385.0 C223.9,395.0 225.0,401.6 226.5,401.6 L249.0,401.6 C250.5,401.6 251.6,395.0 252.0,385.0 L251.6,347.0 C251.2,333.0 250.1,323.0 248.2,317.0 Z" fill="#dcdcdc"/><ellipse cx="237.8" cy="359.0" rx="11.2" ry="36" fill="#ededed"/><ellipse cx="237.8" cy="387.0" rx="9.8" ry="10" fill="#f2f2f2"/><ellipse cx="231.6" cy="319.5" rx="3.2" ry="4.4" fill="#454545"/><ellipse cx="243.9" cy="319.5" rx="3.2" ry="4.4" fill="#454545"/><rect x="235.1" y="315.0" width="5.3" height="12" fill="#d0d0d0"/><ellipse cx="226.5" cy="391.0" rx="2.6" ry="6" fill="#b0b0b0"/><ellipse cx="249.0" cy="391.0" rx="2.6" ry="6" fill="#b0b0b0"/><ellipse cx="230.6" cy="400.1" rx="5.6" ry="5" fill="#3a3a3a"/><ellipse cx="244.9" cy="400.1" rx="5.6" ry="5" fill="#3a3a3a"/></g>
<rect x="218.0" y="403.6" width="39.5" height="3" fill="#fff"/>
<g filter="url(#blur05)"><ellipse cx="60.2" cy="327.9" rx="3.7" ry="2.6" fill="#6a6ae0" stroke="#4040c0" stroke-width="0.6"/><ellipse cx="54.0" cy="338.2" rx="2.8" ry="4.6" fill="#6a6ae0" stroke="#4040c0" stroke-width="0.6"/><ellipse cx="68.0" cy="338.2" rx="2.8" ry="4.6" fill="#6a6ae0" stroke="#4040c0" stroke-width="0.6"/><path d="M66.5,352 Q71,350.5 74.5,352.5 Q74,357 71.5,359 Q68,356 66.5,352 Z" fill="#88dc66"/><ellipse cx="60.4" cy="365.0" rx="15.0" ry="10.8" fill="#ec7f7f" stroke="#b04848" stroke-width="0.7"/><ellipse cx="54.6" cy="361.5" rx="3.4" ry="5.2" fill="#c83a5c"/><path d="M63,357 Q68,354 72,358 Q71,365 66,366 Q62,363 63,357 Z" fill="#c88048"/><ellipse cx="47.4" cy="376.8" rx="2.4" ry="3.2" fill="#6a6ae0"/><ellipse cx="74.6" cy="376.8" rx="2.4" ry="3.2" fill="#6a6ae0"/><ellipse cx="44.8" cy="387.5" rx="1.5" ry="6" fill="#ece070" stroke="#a09020" stroke-width="0.5"/><ellipse cx="77.6" cy="387.5" rx="1.5" ry="6" fill="#ece070" stroke="#a09020" stroke-width="0.5"/></g>
<text x="32.00" y="330.30" font-size="7.7" font-weight="normal" text-anchor="end" fill="#222" textLength="18.20" lengthAdjust="spacingAndGlyphs" >CLNs</text>
<line x1="35.00" y1="328.60" x2="56.50" y2="328.60" stroke="#333" stroke-width="0.9" />
<text x="32.00" y="344.20" font-size="7.7" font-weight="normal" text-anchor="end" fill="#222" textLength="25.10" lengthAdjust="spacingAndGlyphs" >A/BLNs</text>
<line x1="35.00" y1="344.40" x2="60.00" y2="344.40" stroke="#333" stroke-width="0.9" />
<text x="32.00" y="354.20" font-size="7.7" font-weight="normal" text-anchor="end" fill="#222" textLength="9.20" lengthAdjust="spacingAndGlyphs" >SP</text>
<line x1="35.00" y1="352.60" x2="68.50" y2="352.60" stroke="#333" stroke-width="0.9" />
<text x="32.00" y="363.90" font-size="7.7" font-weight="normal" text-anchor="end" fill="#222" textLength="19.00" lengthAdjust="spacingAndGlyphs" >MLNs</text>
<line x1="35.00" y1="362.00" x2="54.00" y2="362.00" stroke="#333" stroke-width="0.9" />
<text x="32.00" y="372.90" font-size="7.7" font-weight="normal" text-anchor="end" fill="#222" textLength="12.10" lengthAdjust="spacingAndGlyphs" >Gut</text>
<line x1="35.00" y1="369.00" x2="62.00" y2="369.00" stroke="#333" stroke-width="0.9" />
<text x="32.00" y="384.10" font-size="7.7" font-weight="normal" text-anchor="end" fill="#222" textLength="19.00" lengthAdjust="spacingAndGlyphs" >IgLNs</text>
<line x1="35.00" y1="380.10" x2="75.00" y2="380.10" stroke="#333" stroke-width="0.9" />
<text x="32.00" y="399.70" font-size="7.7" font-weight="normal" text-anchor="end" fill="#222" textLength="10.90" lengthAdjust="spacingAndGlyphs" >BM</text>
<line x1="35.00" y1="397.10" x2="44.00" y2="397.10" stroke="#333" stroke-width="0.9" />
<line x1="60.00" y1="344.40" x2="55.00" y2="341.40" stroke="#333" stroke-width="0.6" />
<line x1="60.00" y1="344.40" x2="66.50" y2="341.40" stroke="#333" stroke-width="0.6" />
<g filter="url(#blur05)"><path d="M101.0,357.0 L105.0,355.2 L110.0,355.5 L114.0,356.5 L119.0,357.2 L123.5,357.5 L124.6,361.0 L124.3,366.0 L123.0,370.0 L121.5,374.0 L119.0,377.5 L115.0,378.8 L111.0,377.5 L106.0,376.5 L101.5,374.5 L99.6,370.0 L99.5,364.0 L99.8,360.0 Z" fill="#1a10e0" stroke="#2010d8" stroke-width="1.4" stroke-linejoin="round"/><path d="M101.8,357.9 L105.5,356.3 L110.2,356.5 L113.8,357.5 L118.5,358.1 L122.6,358.4 L123.6,361.5 L123.4,366.1 L122.2,369.7 L120.8,373.4 L118.5,376.5 L114.8,377.7 L111.1,376.5 L106.5,375.6 L102.3,373.8 L100.6,369.7 L100.5,364.3 L100.7,360.6 Z" fill="#2a50f0"/><path d="M102.6,358.7 L106.0,357.2 L110.3,357.4 L113.7,358.3 L118.0,358.9 L121.9,359.1 L122.8,362.0 L122.5,366.2 L121.4,369.5 L120.1,372.8 L118.0,375.7 L114.6,376.8 L111.1,375.7 L106.9,374.9 L103.0,373.2 L101.4,369.5 L101.3,364.5 L101.5,361.2 Z" fill="#40a8f0"/><path d="M103.4,359.6 L106.5,358.3 L110.4,358.5 L113.6,359.2 L117.5,359.7 L121.0,360.0 L121.8,362.6 L121.6,366.3 L120.6,369.2 L119.4,372.2 L117.5,374.8 L114.3,375.7 L111.2,374.8 L107.3,374.0 L103.8,372.6 L102.3,369.2 L102.2,364.8 L102.5,361.8 Z" fill="#58e0e8"/><ellipse cx="116.8" cy="366.5" rx="5.6" ry="8.0" fill="#98e860"/><ellipse cx="110.5" cy="370" rx="3.5" ry="3" fill="#a0e870"/><ellipse cx="114.5" cy="365.2" rx="3.0" ry="5.4" fill="#e8e030"/><ellipse cx="114.5" cy="365.0" rx="1.9" ry="4.2" fill="#f07000"/><ellipse cx="114.4" cy="364.6" rx="1.1" ry="3.0" fill="#e00000"/><ellipse cx="120.6" cy="377.2" rx="1.0" ry="1.6" fill="#2010d0"/></g>
<g filter="url(#blur05)"><path d="M141.5,357.0 L146.0,355.5 L152.0,355.8 L158.0,355.3 L164.0,355.5 L169.0,356.5 L171.0,360.0 L170.5,366.0 L169.5,372.0 L170.0,378.0 L168.0,382.5 L162.0,384.0 L156.0,382.5 L150.0,380.5 L144.0,379.0 L140.8,375.0 L140.3,368.0 L140.5,361.0 Z" fill="#1a10e0" stroke="#2010d8" stroke-width="1.4" stroke-linejoin="round"/><path d="M142.0,357.5 L146.5,356.0 L152.0,356.7 L157.5,355.9 L163.5,356.0 L168.7,356.9 L170.5,360.4 L169.7,366.1 L168.7,371.8 L168.8,377.3 L166.7,381.4 L161.1,382.8 L155.1,381.6 L149.5,379.8 L144.0,377.9 L141.3,373.7 L141.0,367.1 L141.2,361.0 Z" fill="#1a10e0"/><path d="M142.4,357.9 L146.9,356.4 L152.0,357.4 L157.1,356.3 L163.1,356.3 L168.6,357.2 L170.2,360.6 L169.2,366.1 L168.2,371.7 L168.1,376.8 L165.9,380.7 L160.5,382.0 L154.5,381.1 L149.1,379.3 L144.1,377.2 L141.7,372.9 L141.4,366.5 L141.6,361.0 Z" fill="#2a60f0"/><path d="M142.8,358.3 L147.3,356.8 L152.0,358.0 L156.7,356.6 L162.7,356.7 L168.4,357.6 L169.9,360.8 L168.6,366.2 L167.6,371.6 L167.3,376.3 L165.1,380.0 L159.9,381.1 L153.9,380.5 L148.7,378.8 L144.1,376.5 L142.1,372.1 L141.9,365.9 L142.1,361.0 Z" fill="#40d0f0"/><path d="M143.2,358.7 L147.7,357.2 L152.0,358.8 L156.3,357.2 L162.3,357.1 L168.1,357.9 L169.4,361.2 L167.9,366.3 L166.9,371.4 L166.2,375.7 L163.9,379.0 L159.1,380.1 L153.1,379.7 L148.3,378.2 L144.1,375.5 L142.5,370.9 L142.4,365.1 L142.6,361.0 Z" fill="#90e860"/><path d="M143.8,359.3 L148.3,357.8 L152.0,359.8 L155.7,357.7 L161.7,357.6 L167.9,358.4 L168.9,361.5 L167.1,366.4 L166.1,371.2 L165.1,375.0 L162.7,377.9 L158.2,378.8 L152.2,378.9 L147.7,377.5 L144.2,374.4 L143.1,369.7 L143.1,364.2 L143.3,361.0 Z" fill="#f0e020"/><path d="M144.1,359.6 L148.6,358.1 L152.0,360.4 L155.4,358.1 L161.4,358.0 L167.7,358.7 L168.6,361.8 L166.5,366.4 L165.5,371.1 L164.3,374.5 L161.8,377.2 L157.6,378.0 L151.6,378.3 L147.4,377.0 L144.2,373.7 L143.4,368.8 L143.6,363.6 L143.8,361.0 Z" fill="#f07000"/><path d="M144.5,360.0 L149.0,358.5 L152.0,361.0 L155.0,358.5 L161.0,358.3 L167.5,359.0 L168.3,362.0 L166.0,366.5 L165.0,371.0 L163.5,374.0 L161.0,376.5 L157.0,377.2 L151.0,377.7 L147.0,376.5 L144.2,373.0 L143.8,368.0 L144.0,363.0 L144.2,361.0 Z" fill="#e80000"/><ellipse cx="151.8" cy="361" rx="1.6" ry="2.2" fill="#f0e020"/></g>
<g filter="url(#blur05)"><path d="M184.0,352.5 L190.0,351.5 L196.0,351.8 L202.0,351.3 L207.5,352.0 L210.0,355.0 L210.6,362.0 L210.4,370.0 L210.0,376.0 L207.0,380.0 L201.0,381.2 L196.0,380.8 L190.0,381.5 L185.0,380.0 L182.5,375.0 L182.2,367.0 L182.5,360.0 L183.0,355.0 Z" fill="#1a10e0" stroke="#2010d8" stroke-width="1.4" stroke-linejoin="round"/><path d="M184.4,353.5 L190.2,352.6 L196.2,352.9 L202.2,352.4 L207.4,353.1 L209.7,356.3 L210.6,362.0 L210.4,370.0 L209.1,375.9 L205.8,379.2 L200.6,379.5 L196.2,378.6 L190.4,379.0 L185.0,380.0 L182.5,375.0 L182.2,367.0 L182.5,360.0 L183.1,355.1 Z" fill="#1a10e0"/><path d="M184.6,354.1 L190.3,353.3 L196.3,353.6 L202.3,353.2 L207.3,353.8 L209.5,357.1 L210.3,362.8 L210.2,370.2 L208.5,375.8 L205.1,378.6 L200.2,378.4 L196.3,377.1 L190.6,377.4 L185.4,378.5 L182.5,375.0 L182.2,367.0 L182.5,360.0 L183.4,355.6 Z" fill="#2a60f0"/><path d="M184.8,354.7 L190.4,354.0 L196.4,354.3 L202.4,353.9 L207.3,354.5 L209.2,357.9 L210.0,363.6 L209.7,370.7 L207.9,375.7 L204.3,378.1 L199.9,377.3 L196.4,375.6 L190.8,375.7 L185.8,376.8 L182.6,374.7 L182.2,367.0 L182.6,360.0 L183.8,356.1 Z" fill="#40d0f0"/><path d="M185.2,355.6 L190.6,355.0 L196.6,355.3 L202.6,355.0 L207.2,355.5 L209.0,359.1 L209.6,364.9 L209.1,371.3 L207.1,375.5 L203.2,377.4 L199.6,375.9 L196.6,373.7 L191.2,373.6 L186.4,374.4 L183.4,372.6 L183.0,365.9 L183.3,360.0 L184.3,356.8 Z" fill="#90e860"/><path d="M185.5,356.5 L190.8,356.1 L196.8,356.4 L202.8,356.1 L207.1,356.6 L208.6,360.3 L209.1,366.2 L208.4,372.0 L206.2,375.4 L202.1,376.6 L199.1,374.2 L196.8,371.5 L191.5,371.1 L187.1,371.7 L184.3,370.2 L184.0,364.7 L184.2,360.0 L184.8,357.5 Z" fill="#f0e020"/><path d="M185.8,357.2 L190.9,356.8 L196.9,357.1 L202.9,356.8 L207.1,357.3 L208.4,361.2 L208.8,367.1 L208.0,372.5 L205.6,375.3 L201.3,376.0 L198.8,373.1 L196.9,370.0 L191.8,369.4 L187.6,370.0 L184.9,368.6 L184.6,363.8 L184.7,360.0 L185.1,358.0 Z" fill="#f07000"/><path d="M186.0,357.8 L191.0,357.5 L197.0,357.8 L203.0,357.6 L207.0,358.0 L208.2,362.0 L208.5,368.0 L207.5,373.0 L205.0,375.2 L200.5,375.5 L198.5,372.0 L197.0,368.5 L192.0,367.8 L188.0,368.2 L185.5,367.0 L185.2,363.0 L185.3,360.0 L185.5,358.5 Z" fill="#e80000"/></g>
<g filter="url(#blur05)"><path d="M225.0,356.0 L230.0,352.5 L237.0,350.2 L243.0,351.5 L248.0,354.5 L250.5,359.0 L251.3,366.0 L251.3,374.0 L249.5,380.0 L244.0,383.5 L238.0,384.5 L231.0,384.2 L226.0,382.0 L223.3,377.0 L222.8,370.0 L223.0,363.0 L223.8,359.0 L224.5,357.0 Z" fill="#1a10e0" stroke="#2010d8" stroke-width="1.4" stroke-linejoin="round"/><path d="M225.3,356.3 L230.2,352.9 L237.0,350.8 L242.8,352.1 L247.6,355.0 L249.9,359.4 L250.6,366.0 L250.6,373.6 L248.8,379.5 L243.5,382.8 L237.5,383.9 L230.7,383.8 L226.0,381.6 L223.5,376.8 L223.0,370.0 L223.2,363.2 L223.9,359.2 L224.6,357.3 Z" fill="#1a10e0"/><path d="M225.4,356.4 L230.3,353.1 L237.0,351.3 L242.7,352.5 L247.2,355.4 L249.5,359.6 L250.2,366.0 L250.1,373.4 L248.3,379.1 L243.1,382.3 L237.1,383.4 L230.6,383.5 L226.0,381.4 L223.7,376.7 L223.2,370.0 L223.3,363.3 L224.0,359.3 L224.7,357.4 Z" fill="#2a60f0"/><path d="M225.6,356.6 L230.4,353.3 L237.0,351.7 L242.6,352.9 L246.9,355.8 L249.1,359.8 L249.7,366.0 L249.6,373.2 L247.8,378.7 L242.7,381.8 L236.7,383.0 L230.4,383.3 L226.0,381.2 L223.8,376.6 L223.3,370.0 L223.5,363.4 L224.1,359.4 L224.8,357.6 Z" fill="#40d0f0"/><path d="M225.9,356.9 L230.6,353.7 L237.0,352.3 L242.4,353.4 L246.6,356.2 L248.6,360.2 L249.1,366.0 L249.0,372.8 L247.2,378.3 L242.3,381.2 L236.3,382.5 L230.1,382.9 L226.0,380.8 L224.0,376.4 L223.6,370.0 L223.6,363.6 L224.2,359.6 L225.0,357.9 Z" fill="#90e860"/><path d="M226.1,357.1 L230.8,354.0 L237.0,352.9 L242.2,354.0 L246.1,356.8 L248.0,360.5 L248.4,366.0 L248.3,372.5 L246.5,377.7 L241.7,380.5 L235.7,381.8 L229.9,382.5 L226.0,380.5 L224.2,376.2 L223.8,370.0 L223.8,363.8 L224.3,359.8 L225.1,358.1 Z" fill="#f0e020"/><path d="M226.3,357.3 L230.9,354.3 L237.0,353.4 L242.1,354.4 L245.8,357.1 L247.6,360.8 L248.0,366.0 L247.8,372.2 L246.0,377.4 L241.4,380.0 L235.4,381.4 L229.7,382.3 L226.0,380.2 L224.4,376.1 L223.9,370.0 L224.0,363.9 L224.4,359.9 L225.2,358.3 Z" fill="#f07000"/><path d="M226.5,357.5 L231.0,354.5 L237.0,353.8 L242.0,354.8 L245.5,357.5 L247.2,361.0 L247.5,366.0 L247.3,372.0 L245.5,377.0 L241.0,379.5 L235.0,381.0 L229.5,382.0 L226.0,380.0 L224.5,376.0 L224.1,370.0 L224.1,364.0 L224.5,360.0 L225.3,358.5 Z" fill="#e80000"/></g>
<g filter="url(#blur05)"><ellipse cx="112.4" cy="328.6" rx="1.6" ry="2.2" fill="#2020d0"/><path d="M148,326.5 L155,326.5 L152.5,330.2 L150.5,330.2 Z" fill="#1818d8"/><path d="M194.5,325 L199.5,327.2 L194.5,329.6 Z" fill="none" stroke="#1818d8" stroke-width="1.3"/><ellipse cx="237.8" cy="327.2" rx="1.4" ry="1.1" fill="#2020d0"/></g>
<rect x="81.2" y="300" width="11.7" height="106" fill="#fff"/>
<rect x="132.8" y="300" width="4.1" height="106" fill="#fff"/>
<rect x="174.9" y="300" width="2.9" height="106" fill="#fff"/>
<rect x="216.1" y="300" width="2.9" height="106" fill="#fff"/>
<rect x="256.5" y="300" width="2.6" height="106" fill="#fff"/>
<rect x="36" y="300" width="5" height="106" fill="#fff"/>
<rect x="36" y="302" width="222" height="5.0" fill="#fff"/>
<line x1="35.00" y1="328.60" x2="41.50" y2="328.60" stroke="#333" stroke-width="0.9" />
<line x1="35.00" y1="344.40" x2="41.50" y2="344.40" stroke="#333" stroke-width="0.9" />
<line x1="35.00" y1="352.60" x2="41.50" y2="352.60" stroke="#333" stroke-width="0.9" />
<line x1="35.00" y1="362.00" x2="41.50" y2="362.00" stroke="#333" stroke-width="0.9" />
<line x1="35.00" y1="369.00" x2="41.50" y2="369.00" stroke="#333" stroke-width="0.9" />
<line x1="35.00" y1="380.10" x2="41.50" y2="380.10" stroke="#333" stroke-width="0.9" />
<line x1="35.00" y1="397.10" x2="41.50" y2="397.10" stroke="#333" stroke-width="0.9" />
<text x="103.50" y="301.00" font-size="11" font-weight="normal" text-anchor="start" fill="#111" textLength="16.90" lengthAdjust="spacingAndGlyphs" >T<tspan font-size="7.5" dy="2.6">H</tspan><tspan dy="-2.6">0</tspan></text>
<text x="147.30" y="301.00" font-size="11" font-weight="normal" text-anchor="start" fill="#111" textLength="15.40" lengthAdjust="spacingAndGlyphs" >T<tspan font-size="7.5" dy="2.6">H</tspan><tspan dy="-2.6">1</tspan></text>
<text x="186.50" y="301.00" font-size="11" font-weight="normal" text-anchor="start" fill="#111" textLength="16.70" lengthAdjust="spacingAndGlyphs" >T<tspan font-size="7.5" dy="2.6">H</tspan><tspan dy="-2.6">2</tspan></text>
<text x="225.80" y="301.00" font-size="11" font-weight="normal" text-anchor="start" fill="#111" textLength="21.90" lengthAdjust="spacingAndGlyphs" >T<tspan font-size="7.5" dy="2.6">H</tspan><tspan dy="-2.6">17</tspan></text>
<rect x="258.90" y="308.60" width="6.30" height="92.50" fill="url(#cbar)" stroke="#222" stroke-width="0.6" />
<line x1="265.20" y1="309.50" x2="268.60" y2="309.50" stroke="#333" stroke-width="0.6" />
<text x="270.40" y="311.40" font-size="5.2" font-weight="normal" text-anchor="start" fill="#444" textLength="7.80" lengthAdjust="spacingAndGlyphs" >500</text>
<line x1="265.20" y1="333.30" x2="268.60" y2="333.30" stroke="#333" stroke-width="0.6" />
<text x="270.40" y="335.20" font-size="5.2" font-weight="normal" text-anchor="start" fill="#444" textLength="7.80" lengthAdjust="spacingAndGlyphs" >400</text>
<line x1="265.20" y1="356.00" x2="268.60" y2="356.00" stroke="#333" stroke-width="0.6" />
<text x="270.40" y="357.90" font-size="5.2" font-weight="normal" text-anchor="start" fill="#444" textLength="7.80" lengthAdjust="spacingAndGlyphs" >300</text>
<line x1="265.20" y1="380.70" x2="268.60" y2="380.70" stroke="#333" stroke-width="0.6" />
<text x="270.40" y="382.60" font-size="5.2" font-weight="normal" text-anchor="start" fill="#444" textLength="7.80" lengthAdjust="spacingAndGlyphs" >200</text>
<line x1="265.20" y1="309.50" x2="267.00" y2="309.50" stroke="#555" stroke-width="0.4" />
<line x1="265.20" y1="311.88" x2="267.00" y2="311.88" stroke="#555" stroke-width="0.4" />
<line x1="265.20" y1="314.26" x2="267.00" y2="314.26" stroke="#555" stroke-width="0.4" />
<line x1="265.20" y1="316.64" x2="267.00" y2="316.64" stroke="#555" stroke-width="0.4" />
<line x1="265.20" y1="319.02" x2="267.00" y2="319.02" stroke="#555" stroke-width="0.4" />
<line x1="265.20" y1="321.40" x2="267.00" y2="321.40" stroke="#555" stroke-width="0.4" />
<line x1="265.20" y1="323.78" x2="267.00" y2="323.78" stroke="#555" stroke-width="0.4" />
<line x1="265.20" y1="326.16" x2="267.00" y2="326.16" stroke="#555" stroke-width="0.4" />
<line x1="265.20" y1="328.54" x2="267.00" y2="328.54" stroke="#555" stroke-width="0.4" />
<line x1="265.20" y1="330.92" x2="267.00" y2="330.92" stroke="#555" stroke-width="0.4" />
<line x1="265.20" y1="333.30" x2="267.00" y2="333.30" stroke="#555" stroke-width="0.4" />
<line x1="265.20" y1="335.68" x2="267.00" y2="335.68" stroke="#555" stroke-width="0.4" />
<line x1="265.20" y1="338.06" x2="267.00" y2="338.06" stroke="#555" stroke-width="0.4" />
<line x1="265.20" y1="340.44" x2="267.00" y2="340.44" stroke="#555" stroke-width="0.4" />
<line x1="265.20" y1="342.82" x2="267.00" y2="342.82" stroke="#555" stroke-width="0.4" />
<line x1="265.20" y1="345.20" x2="267.00" y2="345.20" stroke="#555" stroke-width="0.4" />
<line x1="265.20" y1="347.58" x2="267.00" y2="347.58" stroke="#555" stroke-width="0.4" />
<line x1="265.20" y1="349.96" x2="267.00" y2="349.96" stroke="#555" stroke-width="0.4" />
<line x1="265.20" y1="352.34" x2="267.00" y2="352.34" stroke="#555" stroke-width="0.4" />
<line x1="265.20" y1="354.72" x2="267.00" y2="354.72" stroke="#555" stroke-width="0.4" />
<line x1="265.20" y1="357.10" x2="267.00" y2="357.10" stroke="#555" stroke-width="0.4" />
<line x1="265.20" y1="359.48" x2="267.00" y2="359.48" stroke="#555" stroke-width="0.4" />
<line x1="265.20" y1="361.86" x2="267.00" y2="361.86" stroke="#555" stroke-width="0.4" />
<line x1="265.20" y1="364.24" x2="267.00" y2="364.24" stroke="#555" stroke-width="0.4" />
<line x1="265.20" y1="366.62" x2="267.00" y2="366.62" stroke="#555" stroke-width="0.4" />
<line x1="265.20" y1="369.00" x2="267.00" y2="369.00" stroke="#555" stroke-width="0.4" />
<line x1="265.20" y1="371.38" x2="267.00" y2="371.38" stroke="#555" stroke-width="0.4" />
<line x1="265.20" y1="373.76" x2="267.00" y2="373.76" stroke="#555" stroke-width="0.4" />
<line x1="265.20" y1="376.14" x2="267.00" y2="376.14" stroke="#555" stroke-width="0.4" />
<line x1="265.20" y1="378.52" x2="267.00" y2="378.52" stroke="#555" stroke-width="0.4" />
<line x1="265.20" y1="380.90" x2="267.00" y2="380.90" stroke="#555" stroke-width="0.4" />
<line x1="265.20" y1="383.28" x2="267.00" y2="383.28" stroke="#555" stroke-width="0.4" />
<line x1="265.20" y1="385.66" x2="267.00" y2="385.66" stroke="#555" stroke-width="0.4" />
<line x1="265.20" y1="388.04" x2="267.00" y2="388.04" stroke="#555" stroke-width="0.4" />
<line x1="265.20" y1="390.42" x2="267.00" y2="390.42" stroke="#555" stroke-width="0.4" />
<line x1="265.20" y1="392.80" x2="267.00" y2="392.80" stroke="#555" stroke-width="0.4" />
<line x1="265.20" y1="395.18" x2="267.00" y2="395.18" stroke="#555" stroke-width="0.4" />
<line x1="265.20" y1="397.56" x2="267.00" y2="397.56" stroke="#555" stroke-width="0.4" />
<line x1="265.20" y1="399.94" x2="267.00" y2="399.94" stroke="#555" stroke-width="0.4" />
<text transform="translate(289.8,352.5) rotate(-90)" font-size="10.6" text-anchor="middle" fill="#111" textLength="48.6" lengthAdjust="spacingAndGlyphs">p/s/cm<tspan font-size="7" dy="-3.8">2</tspan><tspan dy="3.8">/sr</tspan></text>
<text x="317.60" y="296.20" font-size="11.4" font-weight="bold" text-anchor="start" fill="#111" textLength="7.70" lengthAdjust="spacingAndGlyphs" >D</text>
<rect x="332.30" y="311.00" width="78.20" height="77.90" fill="#fff" stroke="#333" stroke-width="0.9" />
<defs><linearGradient id="cb1" x1="0" x2="0" y1="0" y2="1"><stop offset="0" stop-color="#7a7a7a"/><stop offset="0.35" stop-color="#a0a0a0"/><stop offset="0.75" stop-color="#c4c4c4"/><stop offset="1" stop-color="#b0b0b0"/></linearGradient><linearGradient id="cb1h" x1="0" x2="1" y1="0" y2="0"><stop offset="0" stop-color="#000" stop-opacity="0.35"/><stop offset="0.25" stop-color="#000" stop-opacity="0"/><stop offset="0.75" stop-color="#000" stop-opacity="0"/><stop offset="1" stop-color="#000" stop-opacity="0.35"/></linearGradient></defs>
<g filter="url(#blur05)"><path d="M351.4,388.6 L350.5,362.6 C350.5,349.6 368.3,349.6 368.3,362.6 L367.4,388.6 Z" fill="url(#cb1)"/><path d="M351.4,388.6 L350.5,362.6 C350.5,349.6 368.3,349.6 368.3,362.6 L367.4,388.6 Z" fill="url(#cb1h)"/><path d="M351.2,388.6 L351.0,360.6 C351.2,350.6 367.6,350.6 368.5,360.6 L366.9,388.6" fill="none" stroke="#333" stroke-width="0.55"/><path d="M352.4,388.6 L351.4,361.9 C352.0,351.9 366.8,351.9 367.5,361.9 L366.7,388.6" fill="none" stroke="#555" stroke-width="0.55"/><path d="M352.8,388.6 L351.7,363.2 C352.9,353.2 365.9,353.2 366.9,363.2 L365.4,388.6" fill="none" stroke="#444" stroke-width="0.55"/><path d="M354.4,388.6 L352.5,364.5 C353.7,354.5 365.1,354.5 365.6,364.5 L365.0,388.6" fill="none" stroke="#666" stroke-width="0.55"/><path d="M354.6,388.6 L354.5,365.8 C354.5,355.8 364.3,355.8 365.3,365.8 L363.3,388.6" fill="none" stroke="#505050" stroke-width="0.55"/><path d="M355.2,388.6 L354.8,367.1 C355.4,357.1 363.4,357.1 364.5,367.1 L362.9,388.6" fill="none" stroke="#6a6a6a" stroke-width="0.55"/><path d="M356.3,388.6 L355.5,368.4 C356.2,358.4 362.6,358.4 362.6,368.4 L361.8,388.6" fill="none" stroke="#5a5a5a" stroke-width="0.55"/><path d="M357.4,388.6 L356.4,369.7 C357.1,359.7 361.7,359.7 362.0,369.7 L361.0,388.6" fill="none" stroke="#777" stroke-width="0.55"/><path d="M358.0,388.6 L357.2,371.0 C357.9,361.0 360.9,361.0 361.3,371.0 L359.9,388.6" fill="none" stroke="#666" stroke-width="0.55"/><ellipse cx="360.0" cy="359.6" rx="1.3" ry="2.2" fill="#e8e8e8"/><path d="M358.8,371.6 L360.2,371.6 L360.7,385.6 L358.3,385.6 Z" fill="#e4e4e4"/><rect x="351.2" y="386.8" width="16.4" height="1.8" fill="#222"/></g>
<g fill="none" stroke="#6a6a6a" stroke-width="0.6" filter="url(#blur05)"><path d="M369.5,355.5 C372,353.8 378,354 380,357.5 C381.5,360.5 378,362.5 374,362.2 C371.5,362 370,361 369.5,360.5"/><path d="M369.5,365 C373,367.5 378,368 381,365 C383.5,362.5 385,359 388,357.5 C391,356 393,357 393.3,359"/><path d="M369.5,353.2 C375,352.8 381,353.3 384,356"/><path d="M386.8,360.2 C387,357.8 391,357.8 391.5,360.2 C391.8,362.5 387.2,362.8 386.8,360.2 Z"/><ellipse cx="388.6" cy="370.2" rx="0.6" ry="1.2"/><path d="M371.5,388.5 C373,384.5 376,383.2 379,383.2 C382.5,383.2 385.5,385 387.5,388.5"/><path d="M373,388.5 C375,386 377,385.2 379,385.2 C381.5,385.2 384,386.5 386,388.5"/><path d="M359.3,347.8 C359.3,341.2 363.8,341.2 363.8,347.8" stroke-width="0.9" stroke="#777"/></g>
<rect x="351.30" y="330.60" width="16.40" height="17.70" fill="none" stroke="#3a3ac8" stroke-width="1.0" />
<rect x="369.30" y="352.20" width="24.40" height="36.60" fill="none" stroke="#3a3ac8" stroke-width="1.0" />
<text x="353.10" y="328.50" font-size="8.8" font-weight="normal" text-anchor="start" fill="#222" textLength="12.00" lengthAdjust="spacingAndGlyphs" >1%</text>
<text x="394.00" y="373.60" font-size="8.8" font-weight="normal" text-anchor="start" fill="#222" textLength="16.00" lengthAdjust="spacingAndGlyphs" >12%</text>
<rect x="435.30" y="311.20" width="77.80" height="77.60" fill="#fff" stroke="#333" stroke-width="0.9" />
<defs><linearGradient id="cb2" x1="0" x2="0" y1="0" y2="1"><stop offset="0" stop-color="#7a7a7a"/><stop offset="0.35" stop-color="#a0a0a0"/><stop offset="0.75" stop-color="#c4c4c4"/><stop offset="1" stop-color="#b0b0b0"/></linearGradient><linearGradient id="cb2h" x1="0" x2="1" y1="0" y2="0"><stop offset="0" stop-color="#000" stop-opacity="0.35"/><stop offset="0.25" stop-color="#000" stop-opacity="0"/><stop offset="0.75" stop-color="#000" stop-opacity="0"/><stop offset="1" stop-color="#000" stop-opacity="0.35"/></linearGradient></defs>
<g filter="url(#blur05)"><path d="M456.5,388.6 L455.6,365.4 C455.6,352.4 471.5,352.4 471.5,365.4 L470.6,388.6 Z" fill="url(#cb2)"/><path d="M456.5,388.6 L455.6,365.4 C455.6,352.4 471.5,352.4 471.5,365.4 L470.6,388.6 Z" fill="url(#cb2h)"/><path d="M457.2,388.6 L456.2,363.4 C456.3,353.4 470.8,353.4 470.9,363.4 L469.9,388.6" fill="none" stroke="#333" stroke-width="0.55"/><path d="M457.9,388.6 L456.7,364.7 C457.1,354.7 470.1,354.7 470.9,364.7 L469.4,388.6" fill="none" stroke="#555" stroke-width="0.55"/><path d="M458.3,388.6 L457.3,366.0 C457.8,356.0 469.3,356.0 470.0,366.0 L468.5,388.6" fill="none" stroke="#444" stroke-width="0.55"/><path d="M458.9,388.6 L457.8,367.3 C458.6,357.3 468.6,357.3 469.4,367.3 L468.7,388.6" fill="none" stroke="#666" stroke-width="0.55"/><path d="M460.2,388.6 L458.8,368.6 C459.3,358.6 467.8,358.6 468.3,368.6 L467.1,388.6" fill="none" stroke="#505050" stroke-width="0.55"/><path d="M459.9,388.6 L458.9,369.9 C460.1,359.9 467.1,359.9 467.6,369.9 L466.4,388.6" fill="none" stroke="#6a6a6a" stroke-width="0.55"/><path d="M461.1,388.6 L460.7,371.2 C460.8,361.2 466.3,361.2 466.9,371.2 L466.0,388.6" fill="none" stroke="#5a5a5a" stroke-width="0.55"/><path d="M461.6,388.6 L460.4,372.5 C461.6,362.5 465.6,362.5 465.9,372.5 L464.7,388.6" fill="none" stroke="#777" stroke-width="0.55"/><path d="M462.7,388.6 L462.3,373.8 C462.3,363.8 464.8,363.8 465.6,373.8 L464.0,388.6" fill="none" stroke="#666" stroke-width="0.55"/><ellipse cx="464.2" cy="362.4" rx="1.3" ry="2.2" fill="#e8e8e8"/><path d="M462.9,371.6 L464.4,371.6 L464.9,385.6 L462.4,385.6 Z" fill="#e4e4e4"/><rect x="456.3" y="386.8" width="14.5" height="1.8" fill="#222"/></g>
<g filter="url(#blur05)"><path d="M457.8,331 C457.8,323.8 471.2,323.8 471.2,331 L470.6,344 C470.2,350 467.5,351.2 464.5,351.2 C461.5,351.2 458.8,350 458.4,344 Z" fill="#a2a2a2" stroke="#555" stroke-width="0.6"/><path d="M459.4,332 C459.4,326.5 469.6,326.5 469.6,332 L469.2,343 C468.8,348 466.8,349.2 464.5,349.2 C462.2,349.2 460.2,348 459.8,343 Z" fill="#b0b0b0" stroke="#666" stroke-width="0.55"/><path d="M461.2,333 C461.2,329.2 467.8,329.2 467.8,333 L467.4,342 C467,345.5 465.8,346.5 464.5,346.5 C463.2,346.5 462,345.5 461.6,342 Z" fill="#bcbcbc" stroke="#777" stroke-width="0.5"/><path d="M463.2,334 C463.2,332 465.8,332 465.8,334 L465.5,340 C465.3,342 463.7,342 463.5,340 Z" fill="#d4d4d4"/></g>
<g fill="none" stroke="#6a6a6a" stroke-width="0.6" filter="url(#blur05)"><path d="M478,366 C478,362 484,362 485,365 C486,368 484,371 486,373 C488,375 490,373 492,376 C494,379 495,383 492,385 C489,387 484,385 481,386 C478,387 475,385 476,381 C477,378 480,378 480,375 C480,372 478,370 478,366 Z"/><path d="M480,366.5 C480,364.5 483,364.5 483,366.5 C483,368.5 480,368.5 480,366.5 Z"/><path d="M476,372 C478,374 481,376 482,379"/><path d="M485,380 C487,379 490,380 491,383"/></g>
<rect x="456.20" y="323.50" width="16.50" height="28.70" fill="none" stroke="#3a3ac8" stroke-width="1.0" />
<rect x="473.20" y="360.60" width="24.30" height="28.20" fill="none" stroke="#3a3ac8" stroke-width="1.0" />
<text x="456.30" y="321.80" font-size="8.8" font-weight="normal" text-anchor="start" fill="#222" textLength="16.00" lengthAdjust="spacingAndGlyphs" >13%</text>
<text x="497.80" y="377.40" font-size="8.8" font-weight="normal" text-anchor="start" fill="#222" textLength="15.60" lengthAdjust="spacingAndGlyphs" >12%</text>
<path d="M322.2,396.3 L322.2,368.2 M322.2,396.3 L349.7,396.3" stroke="#111" stroke-width="0.9" fill="none"/>
<path d="M320.3,368.8 L322.2,365.2 L324.09999999999997,368.8 Z" fill="#111"/>
<path d="M349.09999999999997,394.40000000000003 L352.7,396.3 L349.09999999999997,398.2 Z" fill="#111"/>
<path d="M426.2,397.1 L426.2,369.6 M426.2,397.1 L454.0,397.1" stroke="#111" stroke-width="0.9" fill="none"/>
<path d="M424.3,370.20000000000005 L426.2,366.6 L428.09999999999997,370.20000000000005 Z" fill="#111"/>
<path d="M453.4,395.20000000000005 L457.0,397.1 L453.4,399.0 Z" fill="#111"/>
<text transform="translate(327.3,350.5) rotate(-90)" font-size="10.2" text-anchor="middle" fill="#111" textLength="17.2" lengthAdjust="spacingAndGlyphs">IL-4</text>
<text transform="translate(430.6,343.2) rotate(-90)" font-size="10.2" text-anchor="middle" fill="#111" textLength="31.2" lengthAdjust="spacingAndGlyphs">IL-17A</text>
<text x="357.00" y="401.00" font-size="10.2" font-weight="normal" text-anchor="start" fill="#111" textLength="26.00" lengthAdjust="spacingAndGlyphs" >IFN-&#947;</text>
<text x="460.10" y="400.80" font-size="10.2" font-weight="normal" text-anchor="start" fill="#111" textLength="25.60" lengthAdjust="spacingAndGlyphs" >IFN-&#947;</text>
</svg></body></html>
